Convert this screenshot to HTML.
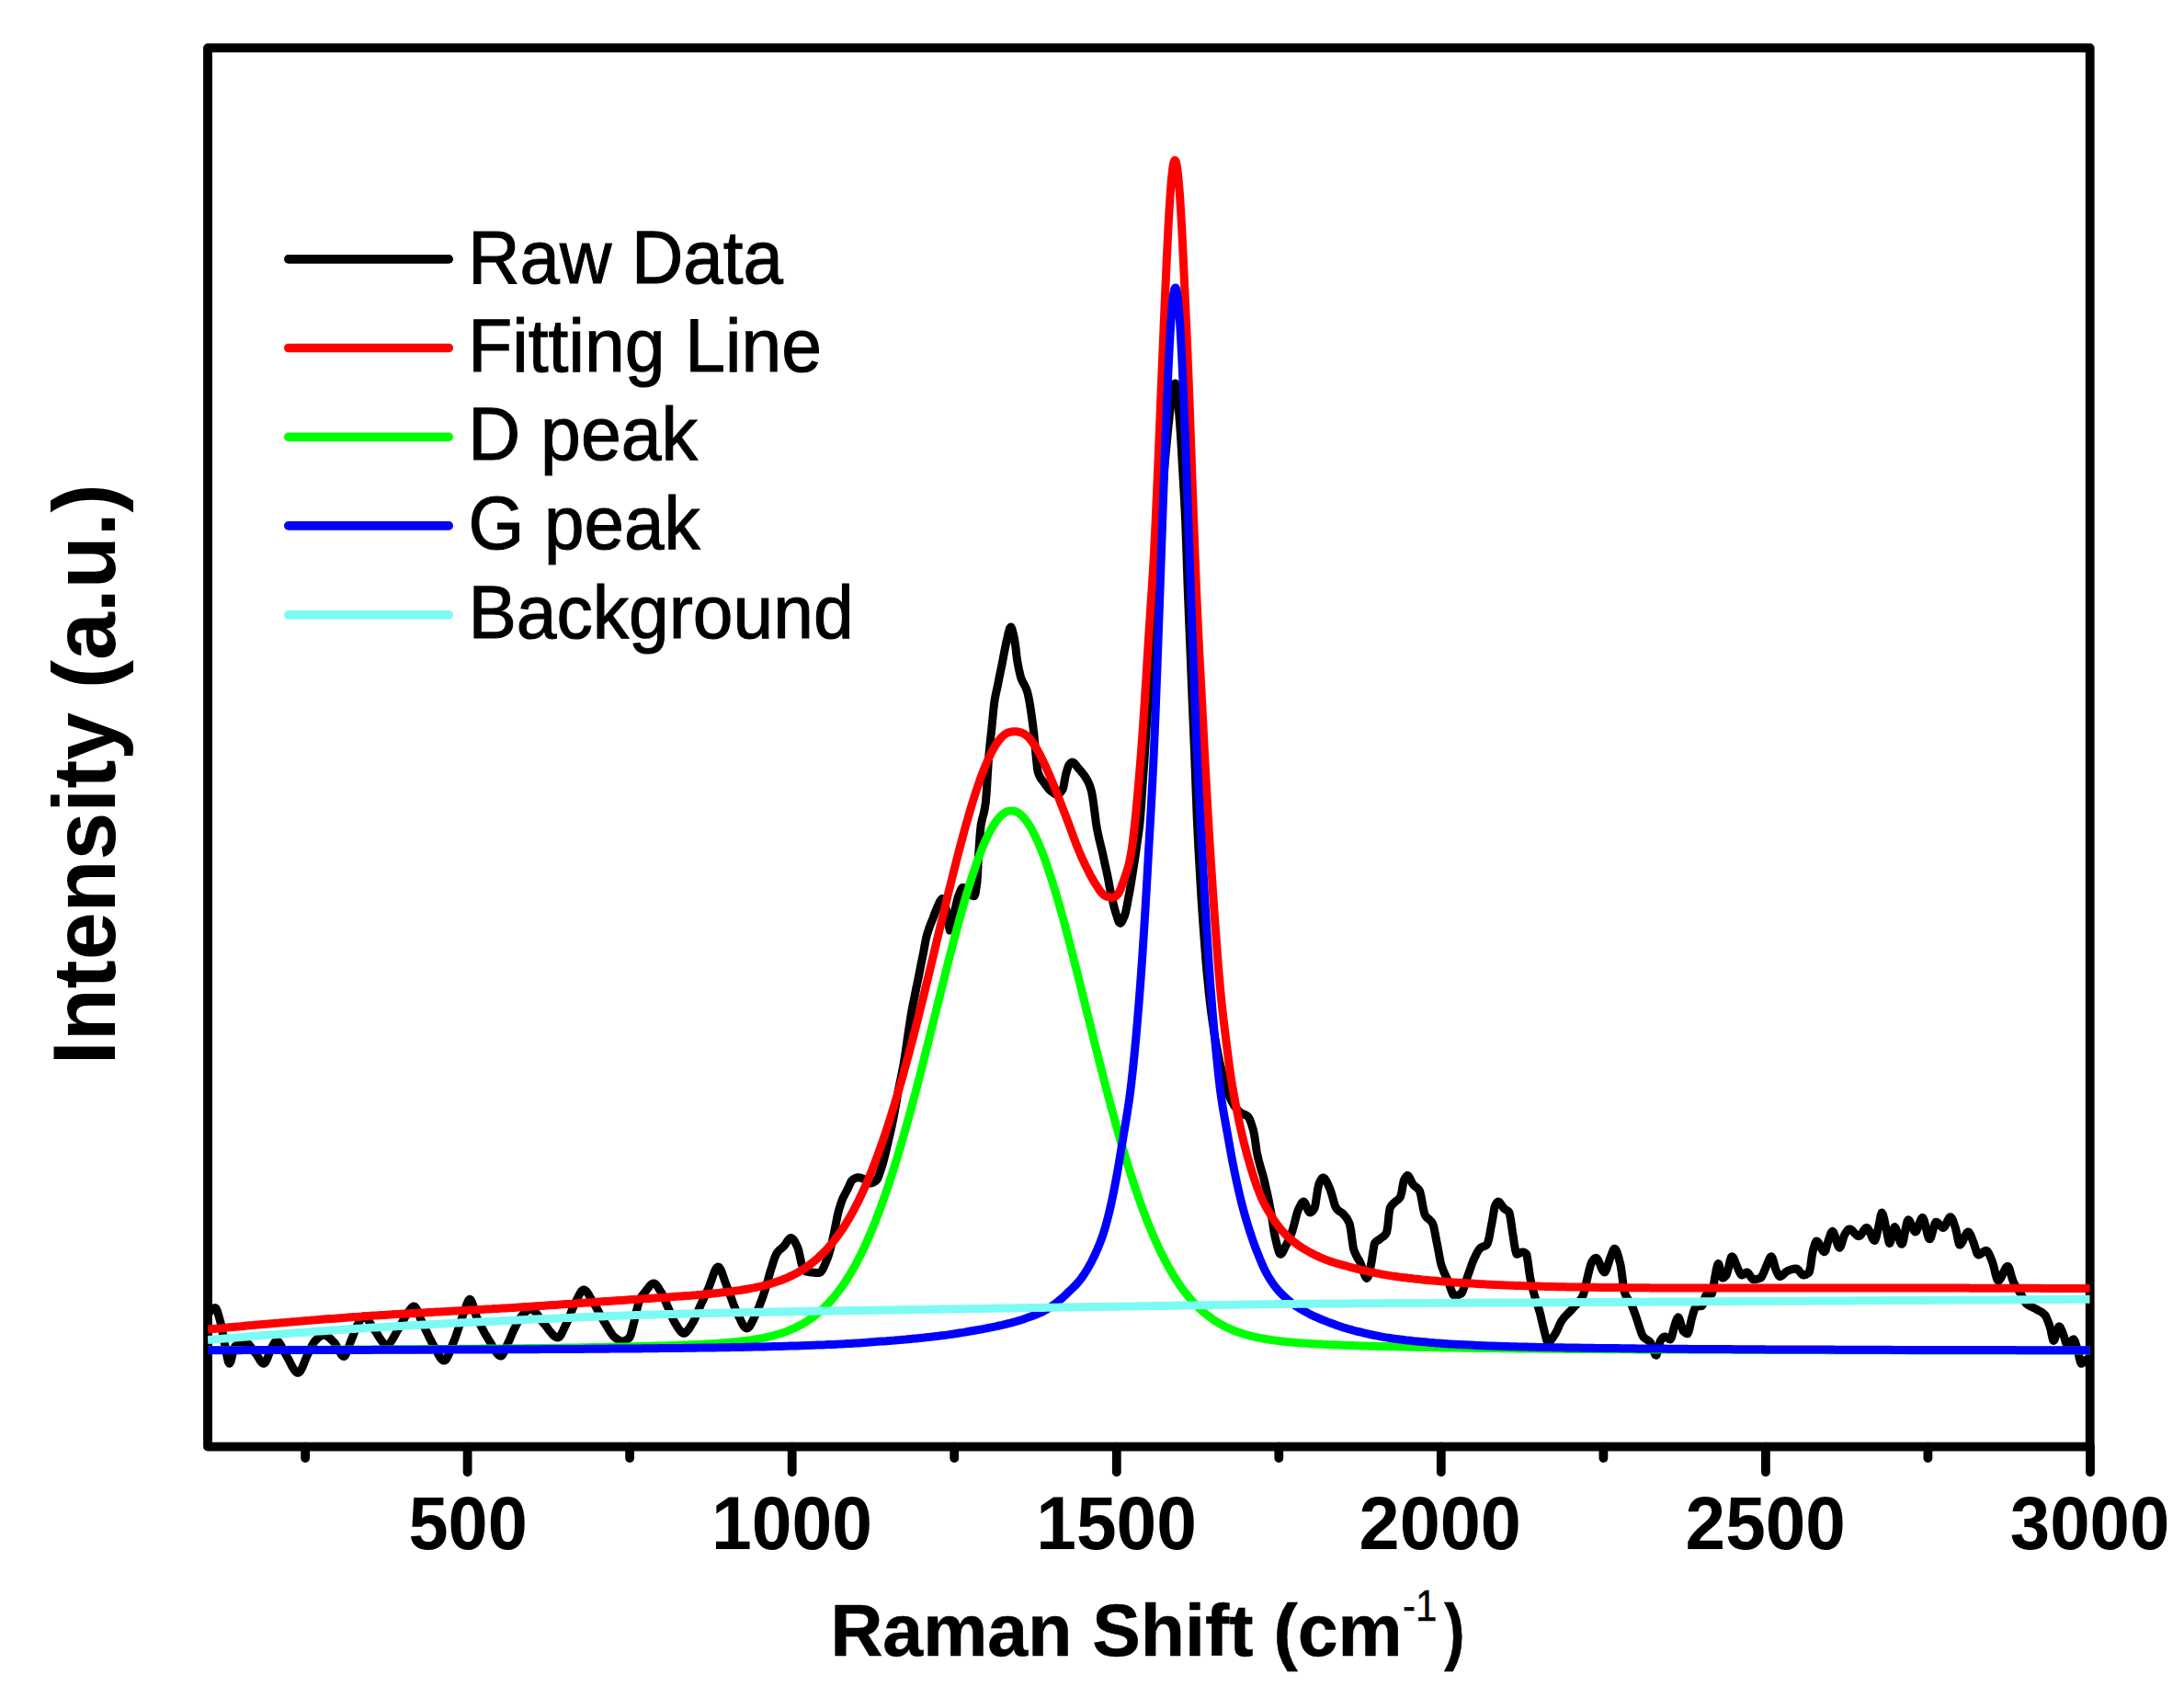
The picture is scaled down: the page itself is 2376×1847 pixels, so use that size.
<!DOCTYPE html>
<html lang="en">
<head>
<meta charset="utf-8">
<title>Raman spectrum fit</title>
<style>
html,body{margin:0;padding:0;background:#fff;}
body{width:2376px;height:1847px;overflow:hidden;}
svg{display:block;}
text{font-family:"Liberation Sans",Arial,Helvetica,sans-serif;fill:#000;}
.curve path{fill:none;stroke-width:9.0;stroke-linejoin:round;stroke-linecap:butt;}
</style>
</head>
<body>
<svg width="2376" height="1847" viewBox="0 0 2376 1847">
<rect x="0" y="0" width="2376" height="1847" fill="#ffffff"/>
<defs><clipPath id="plot"><rect x="226.0" y="52.1" width="2047.6999999999998" height="1521.5"/></clipPath></defs>
<!-- frame -->
<rect x="226.0" y="52.1" width="2047.6999999999998" height="1521.5" fill="none" stroke="#000" stroke-width="9.8" stroke-linejoin="round"/>
<g stroke="#000" stroke-width="9.8" stroke-linecap="round">
<line x1="332.1" y1="1573.6" x2="332.1" y2="1586"/>
<line x1="508.6" y1="1573.6" x2="508.6" y2="1601.3"/>
<line x1="685.1" y1="1573.6" x2="685.1" y2="1586"/>
<line x1="861.7" y1="1573.6" x2="861.7" y2="1601.3"/>
<line x1="1038.2" y1="1573.6" x2="1038.2" y2="1586"/>
<line x1="1214.8" y1="1573.6" x2="1214.8" y2="1601.3"/>
<line x1="1391.3" y1="1573.6" x2="1391.3" y2="1586"/>
<line x1="1567.8" y1="1573.6" x2="1567.8" y2="1601.3"/>
<line x1="1744.4" y1="1573.6" x2="1744.4" y2="1586"/>
<line x1="1920.9" y1="1573.6" x2="1920.9" y2="1601.3"/>
<line x1="2097.4" y1="1573.6" x2="2097.4" y2="1586"/>
<line x1="2274.0" y1="1573.6" x2="2274.0" y2="1601.3"/>
</g>
<!-- curves -->
<g class="curve" clip-path="url(#plot)">
<path id="raw" stroke="#000000" d="M226.0,1431.0 L226.5,1430.0 L227.2,1428.6 L228.5,1426.6 L229.8,1425.0 L230.9,1424.0 L231.0,1423.9 L232.2,1423.1 L233.5,1422.6 L234.0,1422.5 L234.8,1422.9 L236.0,1425.1 L237.2,1428.7 L238.5,1433.2 L239.8,1437.9 L240.2,1439.6 L241.0,1443.0 L242.2,1449.8 L243.5,1457.1 L244.8,1463.8 L244.9,1464.5 L246.0,1470.0 L247.2,1476.5 L248.5,1481.5 L249.6,1483.2 L249.8,1483.2 L251.0,1481.0 L252.2,1476.4 L253.5,1471.0 L254.8,1466.5 L255.8,1464.5 L256.0,1464.3 L257.2,1463.4 L258.5,1462.6 L259.8,1461.8 L261.0,1461.2 L262.2,1460.7 L263.5,1460.3 L264.8,1460.1 L266.0,1459.9 L266.7,1459.9 L267.2,1460.0 L268.5,1460.4 L269.8,1461.4 L271.0,1462.6 L272.2,1464.2 L273.5,1465.9 L274.8,1467.7 L276.0,1469.4 L277.2,1471.1 L278.0,1472.0 L278.5,1472.6 L279.8,1474.4 L281.0,1476.5 L282.2,1478.6 L283.5,1480.5 L284.8,1482.0 L286.0,1483.0 L286.9,1483.2 L287.2,1483.1 L288.5,1482.1 L289.8,1480.0 L291.0,1477.2 L292.2,1474.0 L293.5,1470.6 L294.8,1467.5 L296.0,1465.0 L296.3,1464.5 L297.2,1462.9 L298.5,1460.7 L299.8,1459.0 L301.0,1458.3 L302.2,1458.8 L303.5,1460.1 L304.8,1461.9 L306.0,1464.2 L307.2,1466.7 L308.5,1469.2 L309.8,1471.4 L310.3,1472.3 L311.0,1473.4 L312.2,1475.6 L313.5,1478.0 L314.8,1480.4 L316.0,1482.9 L317.2,1485.3 L318.5,1487.6 L319.8,1489.6 L321.0,1491.2 L322.2,1492.5 L323.5,1493.2 L324.3,1493.3 L324.8,1493.2 L326.0,1492.3 L327.2,1490.6 L328.5,1488.2 L329.8,1485.3 L331.0,1482.2 L332.2,1479.0 L333.5,1475.9 L334.8,1473.2 L335.2,1472.3 L336.0,1470.8 L337.2,1468.2 L338.5,1465.7 L339.8,1463.2 L341.0,1461.0 L342.2,1459.1 L343.0,1458.3 L343.5,1457.8 L344.8,1456.6 L346.0,1455.4 L347.2,1454.4 L348.5,1453.5 L349.8,1452.7 L351.0,1452.3 L352.2,1452.1 L352.3,1452.1 L353.5,1452.3 L354.8,1452.7 L356.0,1453.4 L357.2,1454.3 L358.5,1455.4 L359.8,1456.5 L361.0,1457.7 L362.2,1459.0 L363.2,1459.9 L363.5,1460.2 L364.8,1461.8 L366.0,1463.9 L367.2,1466.3 L368.5,1468.7 L369.8,1471.0 L371.0,1473.0 L372.2,1474.5 L373.5,1475.3 L374.1,1475.4 L374.8,1475.2 L376.0,1473.7 L377.2,1471.0 L378.5,1467.7 L379.8,1464.1 L381.0,1460.5 L381.9,1458.3 L382.2,1457.5 L383.5,1454.4 L384.8,1451.1 L386.0,1447.8 L387.2,1444.6 L388.5,1441.8 L389.7,1439.6 L389.8,1439.5 L391.0,1437.4 L392.2,1435.3 L393.5,1433.5 L394.8,1432.2 L395.9,1431.8 L396.0,1431.8 L397.2,1432.2 L398.5,1433.2 L399.8,1434.7 L401.0,1436.5 L402.2,1438.6 L403.5,1440.7 L404.8,1442.8 L406.0,1444.7 L406.8,1445.8 L407.2,1446.4 L408.5,1448.1 L409.8,1450.1 L411.0,1452.1 L412.2,1454.1 L413.5,1456.1 L414.8,1458.0 L416.0,1459.7 L417.2,1461.1 L418.5,1462.2 L419.8,1462.8 L420.8,1463.0 L421.0,1463.0 L422.2,1462.6 L423.5,1461.6 L424.8,1460.2 L426.0,1458.5 L427.2,1456.4 L428.5,1454.2 L429.8,1452.0 L431.0,1449.7 L432.2,1447.5 L433.3,1445.8 L433.5,1445.5 L434.8,1443.4 L436.0,1441.2 L437.2,1438.9 L438.5,1436.6 L439.8,1434.3 L441.0,1432.0 L442.2,1430.0 L443.5,1428.1 L444.2,1427.2 L444.8,1426.5 L446.0,1424.8 L447.2,1423.1 L448.5,1421.8 L449.8,1421.0 L450.4,1420.9 L451.0,1421.1 L452.2,1422.2 L453.5,1424.4 L454.8,1427.2 L456.0,1430.4 L457.2,1433.7 L458.5,1436.9 L459.7,1439.6 L459.8,1439.7 L461.0,1442.2 L462.2,1444.8 L463.5,1447.5 L464.8,1450.1 L466.0,1452.7 L467.2,1455.3 L468.5,1457.7 L469.8,1460.2 L471.0,1462.4 L472.2,1464.5 L472.2,1464.6 L473.5,1466.8 L474.8,1469.1 L476.0,1471.5 L477.2,1473.9 L478.5,1476.0 L479.8,1477.8 L481.0,1479.1 L482.2,1479.9 L483.1,1480.1 L483.5,1480.0 L484.8,1479.3 L486.0,1477.6 L487.2,1475.3 L488.5,1472.5 L489.8,1469.4 L491.0,1466.1 L492.2,1462.7 L493.5,1459.5 L494.0,1458.3 L494.8,1456.5 L496.0,1453.2 L497.2,1449.6 L498.5,1445.8 L499.8,1442.0 L501.0,1438.2 L502.2,1434.5 L503.5,1430.9 L504.8,1427.6 L504.9,1427.2 L506.0,1424.2 L507.2,1420.4 L508.5,1416.9 L509.8,1414.3 L511.0,1413.2 L511.1,1413.2 L512.2,1414.1 L513.5,1416.6 L514.8,1420.3 L516.0,1424.6 L517.2,1428.8 L518.5,1432.5 L518.9,1433.4 L519.8,1435.3 L521.0,1437.9 L522.2,1440.5 L523.5,1443.0 L524.8,1445.4 L526.0,1447.7 L527.2,1450.0 L528.5,1452.1 L529.8,1454.2 L531.0,1456.2 L531.3,1456.7 L532.2,1458.2 L533.5,1460.4 L534.8,1462.6 L536.0,1464.9 L537.2,1467.0 L538.5,1469.1 L539.8,1470.9 L541.0,1472.5 L542.2,1473.8 L543.5,1474.6 L544.8,1475.0 L545.0,1475.0 L546.0,1474.6 L547.2,1473.0 L548.5,1470.5 L549.8,1467.6 L551.0,1464.6 L552.2,1461.7 L552.5,1461.2 L553.5,1459.1 L554.8,1456.3 L556.0,1453.4 L557.2,1450.5 L558.5,1447.6 L559.8,1445.0 L560.2,1444.1 L561.0,1442.6 L562.2,1440.1 L563.5,1437.8 L564.8,1435.6 L566.0,1433.6 L567.2,1431.9 L568.0,1431.0 L568.5,1430.5 L569.8,1429.1 L571.0,1427.8 L572.2,1426.6 L573.5,1425.6 L574.8,1424.7 L576.0,1424.1 L577.2,1423.9 L577.4,1423.9 L578.5,1424.1 L579.8,1424.7 L581.0,1425.7 L582.2,1427.0 L583.5,1428.6 L584.8,1430.3 L586.0,1432.1 L587.2,1434.0 L588.5,1435.8 L589.8,1437.4 L591.0,1439.0 L591.4,1439.4 L592.2,1440.3 L593.5,1441.8 L594.8,1443.4 L596.0,1445.1 L597.2,1446.8 L598.5,1448.4 L599.8,1450.0 L601.0,1451.4 L602.2,1452.7 L603.5,1453.7 L604.8,1454.5 L606.0,1454.9 L606.9,1455.0 L607.2,1455.0 L608.5,1454.2 L609.8,1452.7 L611.0,1450.6 L612.2,1448.1 L613.5,1445.4 L614.8,1442.6 L616.0,1440.0 L616.3,1439.4 L617.2,1437.4 L618.5,1434.6 L619.8,1431.5 L621.0,1428.3 L622.2,1425.1 L623.5,1422.1 L624.8,1419.3 L625.6,1417.6 L626.0,1416.8 L627.2,1414.3 L628.5,1411.7 L629.8,1409.1 L631.0,1406.8 L632.2,1404.9 L633.5,1403.5 L634.8,1402.9 L635.0,1402.9 L636.0,1403.1 L637.2,1404.0 L638.5,1405.3 L639.8,1407.1 L641.0,1409.1 L642.2,1411.3 L643.5,1413.6 L644.8,1415.7 L645.9,1417.6 L646.0,1417.8 L647.2,1419.7 L648.5,1421.9 L649.8,1424.1 L651.0,1426.4 L652.2,1428.7 L653.5,1431.0 L654.8,1433.3 L656.0,1435.6 L657.2,1437.7 L658.3,1439.4 L658.5,1439.7 L659.8,1441.7 L661.0,1443.8 L662.2,1445.9 L663.5,1448.0 L664.8,1449.9 L666.0,1451.6 L667.2,1453.2 L668.5,1454.4 L669.2,1455.0 L669.8,1455.4 L671.0,1456.3 L672.2,1457.1 L673.5,1457.9 L674.8,1458.4 L676.0,1458.8 L677.0,1458.9 L677.2,1458.9 L678.5,1458.7 L679.8,1458.4 L681.0,1457.8 L682.2,1457.1 L683.5,1456.1 L684.8,1455.0 L684.8,1455.0 L686.0,1452.6 L687.2,1448.2 L688.5,1442.9 L689.4,1439.4 L689.8,1438.1 L691.0,1432.8 L692.2,1427.1 L693.5,1421.7 L694.8,1417.1 L695.7,1414.5 L696.0,1413.9 L697.2,1411.5 L698.5,1409.5 L699.8,1407.8 L701.0,1406.3 L701.9,1405.2 L702.2,1404.8 L703.5,1403.1 L704.8,1401.4 L706.0,1399.8 L707.2,1398.3 L708.5,1397.1 L709.8,1396.3 L711.0,1395.9 L711.2,1395.9 L712.2,1396.2 L713.5,1397.1 L714.8,1398.6 L716.0,1400.4 L717.2,1402.4 L718.5,1404.4 L719.0,1405.2 L719.8,1406.4 L721.0,1408.9 L722.2,1411.6 L723.5,1414.5 L724.8,1417.5 L726.0,1420.5 L726.8,1422.3 L727.2,1423.3 L728.5,1426.2 L729.8,1429.2 L731.0,1432.2 L732.2,1435.0 L733.5,1437.5 L734.6,1439.4 L734.8,1439.6 L736.0,1441.6 L737.2,1443.6 L738.5,1445.6 L739.8,1447.3 L741.0,1448.7 L742.2,1449.8 L743.5,1450.3 L743.9,1450.3 L744.8,1450.2 L746.0,1449.5 L747.2,1448.3 L748.5,1446.8 L749.8,1445.0 L751.0,1443.1 L752.2,1441.1 L753.3,1439.4 L753.5,1439.1 L754.8,1436.8 L756.0,1434.2 L757.2,1431.2 L758.5,1428.2 L759.8,1425.2 L761.0,1422.3 L762.2,1419.6 L763.5,1416.9 L764.8,1414.2 L766.0,1411.6 L767.2,1408.9 L768.5,1406.2 L769.8,1403.5 L770.4,1402.1 L771.0,1400.7 L772.2,1397.5 L773.5,1393.9 L774.8,1390.2 L776.0,1386.7 L777.2,1383.4 L778.5,1380.8 L779.8,1378.9 L781.0,1378.0 L781.3,1378.0 L782.2,1378.4 L783.5,1380.0 L784.8,1382.6 L786.0,1385.8 L787.2,1389.4 L788.5,1393.2 L789.8,1396.7 L790.6,1398.9 L791.0,1399.9 L792.2,1403.1 L793.5,1406.4 L794.8,1409.9 L796.0,1413.3 L797.2,1416.8 L798.5,1420.1 L799.8,1423.2 L801.0,1426.0 L801.5,1427.0 L802.2,1428.5 L803.5,1431.3 L804.8,1434.0 L806.0,1436.7 L807.2,1439.3 L808.5,1441.5 L809.8,1443.2 L811.0,1444.4 L812.2,1444.9 L812.4,1444.9 L813.5,1444.6 L814.8,1443.6 L816.0,1442.0 L817.2,1439.9 L818.5,1437.4 L819.8,1434.8 L821.0,1432.0 L822.2,1429.2 L823.3,1427.0 L823.5,1426.6 L824.8,1423.9 L826.0,1420.9 L827.2,1417.7 L828.5,1414.4 L829.8,1410.9 L831.0,1407.2 L832.2,1403.5 L832.7,1402.1 L833.5,1399.5 L834.8,1395.1 L836.0,1390.5 L837.2,1385.9 L838.5,1381.6 L838.9,1380.3 L839.8,1377.6 L841.0,1373.6 L842.2,1369.8 L843.5,1366.4 L844.8,1363.8 L845.1,1363.2 L846.0,1362.0 L847.2,1360.5 L848.5,1359.3 L849.8,1358.3 L851.0,1357.2 L852.2,1356.1 L852.9,1355.4 L853.5,1354.7 L854.8,1352.9 L856.0,1351.0 L857.2,1349.1 L858.5,1347.6 L859.8,1346.7 L860.5,1346.5 L861.0,1346.6 L862.2,1347.3 L863.5,1348.8 L864.8,1350.8 L866.0,1353.2 L867.2,1355.8 L867.8,1357.0 L868.5,1359.0 L869.8,1364.4 L871.0,1370.3 L872.2,1375.1 L872.5,1375.7 L873.5,1378.0 L874.8,1380.5 L876.0,1382.3 L877.0,1383.0 L877.2,1383.1 L878.5,1383.3 L879.8,1383.6 L881.0,1383.8 L882.2,1384.0 L883.5,1384.1 L884.8,1384.2 L886.0,1384.3 L887.2,1384.4 L888.5,1384.5 L889.8,1384.5 L891.0,1384.5 L891.1,1384.5 L892.2,1384.1 L893.5,1382.9 L894.8,1381.1 L896.0,1378.7 L897.2,1375.9 L898.5,1372.9 L899.8,1369.8 L900.5,1367.9 L901.0,1366.6 L902.2,1362.7 L903.5,1358.1 L904.8,1353.0 L906.0,1347.6 L906.7,1344.6 L907.2,1342.1 L908.5,1335.7 L909.8,1329.0 L911.0,1322.9 L911.4,1321.2 L912.2,1317.9 L913.5,1313.3 L914.8,1309.2 L916.0,1305.7 L917.2,1302.8 L918.5,1300.3 L919.8,1297.9 L921.0,1295.7 L922.2,1293.3 L922.3,1293.2 L923.5,1290.5 L924.8,1287.5 L926.0,1285.0 L926.9,1283.9 L927.2,1283.6 L928.5,1282.7 L929.8,1281.9 L931.0,1281.3 L932.2,1280.9 L933.2,1280.8 L933.5,1280.8 L934.8,1280.9 L936.0,1281.2 L937.2,1281.6 L938.5,1282.0 L939.4,1282.3 L939.8,1282.4 L941.0,1283.2 L942.2,1284.1 L943.5,1285.1 L944.8,1286.1 L946.0,1286.8 L947.2,1287.0 L947.2,1287.0 L948.5,1286.8 L949.8,1286.4 L951.0,1285.7 L952.2,1284.8 L953.4,1283.9 L953.5,1283.8 L954.8,1282.0 L956.0,1279.2 L957.2,1275.6 L958.5,1271.8 L959.6,1268.3 L959.8,1267.8 L961.0,1263.6 L962.2,1258.8 L963.5,1253.6 L964.8,1248.3 L965.9,1243.4 L966.0,1243.0 L967.2,1237.7 L968.5,1232.2 L969.8,1226.6 L971.0,1220.8 L972.1,1215.4 L972.2,1214.6 L973.5,1208.0 L974.8,1201.0 L976.0,1193.8 L977.2,1186.8 L978.3,1181.1 L978.5,1180.1 L979.8,1174.0 L981.0,1168.1 L982.2,1161.9 L983.0,1157.8 L983.5,1154.8 L984.8,1146.7 L986.0,1138.2 L986.7,1133.5 L987.2,1129.8 L988.5,1121.2 L989.8,1112.7 L991.0,1104.8 L991.4,1102.4 L992.2,1097.7 L993.5,1091.2 L994.8,1085.0 L996.0,1079.0 L997.2,1072.9 L997.6,1071.2 L998.5,1066.7 L999.8,1060.4 L1001.0,1054.1 L1002.2,1047.9 L1003.5,1041.6 L1003.8,1040.1 L1004.8,1035.1 L1006.0,1028.4 L1007.2,1022.0 L1008.5,1016.7 L1009.8,1012.6 L1011.0,1009.0 L1012.2,1005.7 L1013.5,1002.6 L1014.7,999.6 L1014.8,999.5 L1016.0,996.1 L1017.2,992.8 L1018.5,989.5 L1019.8,986.5 L1020.9,984.1 L1021.0,983.9 L1022.2,981.2 L1023.5,978.9 L1024.8,977.8 L1024.8,977.8 L1026.0,978.9 L1027.2,981.9 L1028.5,986.2 L1029.8,991.2 L1030.3,993.4 L1031.0,997.5 L1032.2,1007.4 L1033.4,1012.1 L1033.5,1012.1 L1034.8,1009.0 L1036.0,1002.9 L1037.2,996.7 L1037.3,996.5 L1038.5,991.4 L1039.8,985.8 L1041.0,980.5 L1042.2,976.0 L1042.7,974.7 L1043.5,972.5 L1044.8,969.2 L1046.0,966.6 L1047.2,965.4 L1047.4,965.4 L1048.5,965.8 L1049.8,966.9 L1051.0,968.4 L1052.2,970.2 L1053.5,971.8 L1054.8,972.9 L1055.2,973.2 L1056.0,973.6 L1057.2,974.1 L1058.5,974.5 L1059.8,974.7 L1059.9,974.7 L1061.0,972.4 L1062.2,965.1 L1063.0,959.2 L1063.5,951.8 L1064.5,931.1 L1064.8,927.2 L1066.0,909.2 L1066.9,900.0 L1067.2,897.5 L1068.5,891.0 L1069.8,886.4 L1071.0,881.4 L1072.2,873.9 L1072.3,873.5 L1073.5,857.9 L1074.8,836.2 L1075.4,826.8 L1076.0,820.0 L1077.2,807.6 L1078.5,795.7 L1079.8,782.6 L1081.0,770.0 L1081.7,764.5 L1082.2,761.0 L1083.5,754.2 L1084.8,748.4 L1086.0,742.7 L1086.3,741.2 L1087.2,736.4 L1088.5,730.2 L1089.8,724.0 L1091.0,717.8 L1092.2,711.3 L1093.5,704.7 L1094.8,698.5 L1095.7,694.5 L1096.0,693.3 L1097.2,688.0 L1098.5,683.6 L1099.6,682.0 L1099.8,682.0 L1101.0,684.2 L1102.2,688.8 L1103.5,694.5 L1104.8,703.1 L1106.0,713.6 L1106.6,717.8 L1107.2,721.6 L1108.5,728.2 L1109.8,733.8 L1110.5,736.5 L1111.0,738.0 L1112.2,741.0 L1113.5,743.3 L1114.8,745.6 L1116.0,748.1 L1117.2,751.3 L1117.5,752.1 L1118.5,756.0 L1119.8,762.4 L1121.0,769.8 L1121.4,772.3 L1122.2,777.9 L1123.5,787.3 L1124.5,795.7 L1124.8,798.0 L1126.0,810.9 L1126.8,819.0 L1127.2,823.5 L1128.5,835.9 L1129.1,839.3 L1129.8,841.3 L1131.0,844.4 L1132.2,846.6 L1133.5,848.4 L1134.8,849.9 L1136.0,851.6 L1136.1,851.7 L1137.2,853.3 L1138.5,855.1 L1139.8,856.7 L1141.0,858.3 L1142.2,859.6 L1143.5,860.7 L1143.9,861.0 L1144.8,861.6 L1146.0,862.5 L1147.2,863.3 L1148.5,863.9 L1149.8,864.2 L1150.2,864.2 L1151.0,864.1 L1152.2,863.4 L1153.5,862.2 L1154.8,860.6 L1156.0,858.6 L1156.4,857.9 L1157.2,854.8 L1158.5,847.5 L1159.5,842.4 L1159.8,841.5 L1161.0,837.2 L1162.2,833.6 L1163.4,831.5 L1163.5,831.4 L1164.8,830.0 L1166.0,829.2 L1166.5,829.1 L1167.2,829.2 L1168.5,830.0 L1169.8,831.3 L1171.0,832.9 L1172.2,834.5 L1173.5,836.1 L1174.8,837.5 L1176.0,838.9 L1177.2,840.4 L1178.5,842.0 L1179.8,843.7 L1181.0,845.5 L1182.2,847.6 L1182.8,848.6 L1183.5,849.9 L1184.8,852.6 L1186.0,855.9 L1187.2,860.1 L1187.5,861.0 L1188.5,866.3 L1189.8,875.2 L1190.6,881.3 L1191.0,884.1 L1192.2,893.6 L1193.5,902.0 L1194.8,908.2 L1196.0,913.5 L1197.2,918.5 L1198.4,923.3 L1198.5,923.7 L1199.8,929.3 L1201.0,934.9 L1202.2,940.5 L1203.5,946.2 L1204.6,951.4 L1204.8,952.1 L1206.0,958.4 L1207.2,964.8 L1208.5,971.0 L1209.3,974.7 L1209.8,976.7 L1211.0,982.2 L1212.2,987.3 L1213.5,991.8 L1214.0,993.4 L1214.8,995.7 L1216.0,999.7 L1217.2,1002.9 L1218.5,1004.3 L1218.6,1004.3 L1219.8,1003.6 L1221.0,1001.7 L1222.2,999.0 L1223.3,996.5 L1223.5,996.0 L1224.8,991.5 L1226.0,985.4 L1227.2,978.7 L1228.0,974.7 L1228.5,972.0 L1229.8,964.9 L1231.0,957.4 L1232.2,949.5 L1232.7,946.7 L1233.5,941.6 L1234.8,933.3 L1236.0,924.8 L1237.2,916.0 L1237.3,915.6 L1238.5,907.2 L1239.8,897.3 L1240.0,895.0 L1241.0,883.7 L1242.2,866.2 L1243.5,847.3 L1244.0,840.0 L1244.8,829.1 L1246.0,810.3 L1247.2,791.3 L1248.0,780.0 L1248.5,772.5 L1249.8,753.8 L1251.0,735.0 L1252.0,720.0 L1252.2,716.2 L1253.5,697.5 L1254.8,678.8 L1256.0,660.0 L1257.2,641.1 L1258.5,622.1 L1259.8,603.6 L1260.0,600.0 L1261.0,585.8 L1262.2,568.4 L1263.5,551.6 L1264.0,545.0 L1264.8,535.2 L1266.0,519.0 L1267.2,503.6 L1268.0,495.0 L1268.5,489.5 L1269.8,476.3 L1271.0,464.1 L1272.0,455.0 L1272.2,452.8 L1273.5,442.0 L1274.8,432.4 L1275.5,428.0 L1276.0,425.4 L1277.2,419.4 L1278.4,417.0 L1278.5,417.0 L1279.8,421.5 L1281.0,430.0 L1282.2,442.9 L1283.5,460.0 L1284.8,479.0 L1286.0,500.0 L1287.2,521.0 L1288.5,543.5 L1289.1,555.7 L1289.8,570.8 L1291.0,604.4 L1292.2,639.9 L1293.0,660.0 L1293.5,672.7 L1294.8,703.6 L1296.0,733.8 L1297.2,763.7 L1298.3,789.0 L1298.5,793.9 L1299.8,825.7 L1301.0,858.2 L1302.2,889.1 L1303.5,916.4 L1303.9,924.0 L1304.8,939.2 L1306.0,960.5 L1307.2,980.5 L1308.5,999.4 L1309.8,1017.1 L1311.0,1033.5 L1312.2,1048.6 L1313.5,1062.6 L1314.8,1075.2 L1314.8,1075.7 L1316.0,1086.7 L1317.2,1097.3 L1318.5,1107.0 L1319.8,1115.9 L1321.0,1124.0 L1322.0,1130.0 L1322.2,1131.4 L1323.5,1138.4 L1324.8,1145.0 L1326.0,1151.2 L1327.2,1156.9 L1328.5,1162.3 L1329.8,1167.4 L1331.0,1172.0 L1332.2,1176.4 L1333.5,1180.7 L1334.8,1184.7 L1336.0,1188.5 L1337.2,1192.0 L1338.5,1195.0 L1339.8,1197.5 L1340.0,1198.0 L1341.0,1199.7 L1342.2,1201.7 L1343.5,1203.6 L1344.8,1205.2 L1346.0,1206.8 L1347.2,1208.1 L1348.5,1209.3 L1349.8,1210.3 L1350.0,1210.5 L1351.0,1211.1 L1352.2,1211.7 L1353.5,1212.2 L1354.8,1212.7 L1356.0,1213.3 L1357.2,1214.2 L1357.4,1214.3 L1358.5,1215.7 L1359.8,1218.1 L1361.0,1221.3 L1362.2,1225.1 L1363.3,1228.6 L1363.5,1229.3 L1364.8,1235.9 L1366.0,1244.2 L1367.2,1252.5 L1368.1,1257.1 L1368.5,1258.9 L1369.8,1264.0 L1371.0,1268.5 L1372.2,1272.7 L1373.5,1276.9 L1374.8,1281.5 L1375.2,1283.3 L1376.0,1286.6 L1377.2,1292.0 L1378.5,1297.5 L1379.8,1303.4 L1381.0,1309.5 L1382.2,1315.9 L1382.4,1316.7 L1383.5,1323.2 L1384.8,1331.6 L1386.0,1339.6 L1387.1,1345.2 L1387.2,1345.8 L1388.5,1351.3 L1389.8,1356.6 L1391.0,1360.9 L1392.2,1363.7 L1393.1,1364.3 L1393.5,1364.2 L1394.8,1363.1 L1396.0,1361.0 L1397.2,1358.4 L1398.5,1355.8 L1399.0,1354.8 L1399.8,1353.4 L1401.0,1350.8 L1402.2,1348.1 L1403.5,1345.2 L1404.8,1342.1 L1406.0,1338.7 L1406.2,1338.1 L1407.2,1334.6 L1408.5,1329.7 L1409.8,1324.5 L1411.0,1319.8 L1412.1,1316.7 L1412.2,1316.4 L1413.5,1313.5 L1414.8,1310.9 L1416.0,1308.7 L1417.2,1307.4 L1418.1,1307.1 L1418.5,1307.2 L1419.8,1308.7 L1421.0,1311.4 L1422.2,1314.5 L1423.5,1317.3 L1424.8,1318.9 L1425.2,1319.0 L1426.0,1318.8 L1427.2,1318.0 L1428.5,1316.6 L1429.8,1314.7 L1430.0,1314.3 L1431.0,1310.7 L1432.2,1302.7 L1433.5,1294.0 L1434.8,1288.2 L1434.8,1288.1 L1436.0,1285.4 L1437.2,1283.0 L1438.5,1281.4 L1439.5,1281.0 L1439.8,1281.0 L1441.0,1281.8 L1442.2,1283.5 L1443.5,1285.8 L1444.8,1288.5 L1446.0,1291.4 L1446.7,1292.9 L1447.2,1294.2 L1448.5,1298.0 L1449.8,1302.5 L1451.0,1307.0 L1452.2,1311.0 L1453.5,1313.8 L1453.8,1314.3 L1454.8,1315.5 L1456.0,1316.7 L1457.2,1317.6 L1458.5,1318.4 L1459.8,1319.3 L1461.0,1320.3 L1462.1,1321.4 L1462.2,1321.6 L1463.5,1323.0 L1464.8,1324.6 L1466.0,1326.6 L1467.2,1329.0 L1468.1,1331.0 L1468.5,1332.3 L1469.8,1339.5 L1471.0,1348.7 L1472.2,1356.8 L1472.9,1359.5 L1473.5,1361.3 L1474.8,1364.3 L1476.0,1366.7 L1477.2,1368.8 L1478.5,1370.9 L1479.8,1373.3 L1480.0,1373.8 L1481.0,1376.3 L1482.2,1380.0 L1483.5,1383.9 L1484.8,1387.4 L1486.0,1389.7 L1487.1,1390.5 L1487.2,1390.5 L1488.5,1388.4 L1489.8,1383.8 L1491.0,1378.0 L1491.9,1373.8 L1492.2,1372.0 L1493.5,1363.3 L1494.8,1355.0 L1495.5,1352.4 L1496.0,1351.7 L1497.2,1350.4 L1498.5,1349.5 L1499.8,1348.8 L1501.0,1347.9 L1501.4,1347.6 L1502.2,1346.9 L1503.5,1346.0 L1504.8,1345.2 L1506.0,1344.1 L1507.2,1342.7 L1508.5,1340.7 L1508.6,1340.5 L1509.8,1333.4 L1511.0,1321.1 L1512.1,1314.3 L1512.2,1314.0 L1513.5,1311.8 L1514.8,1310.2 L1516.0,1309.0 L1517.2,1307.9 L1518.1,1307.1 L1518.5,1306.7 L1519.8,1305.7 L1521.0,1304.8 L1522.2,1303.6 L1523.5,1302.0 L1524.8,1297.4 L1526.0,1290.2 L1527.2,1284.2 L1527.6,1283.3 L1528.5,1281.6 L1529.8,1279.6 L1531.0,1278.6 L1531.2,1278.6 L1532.2,1279.2 L1533.5,1281.1 L1534.8,1283.7 L1536.0,1286.3 L1537.1,1288.1 L1537.2,1288.3 L1538.5,1289.6 L1539.8,1290.6 L1541.0,1291.5 L1542.2,1292.6 L1543.5,1294.0 L1544.3,1295.2 L1544.8,1296.2 L1546.0,1301.2 L1547.2,1308.1 L1548.5,1315.1 L1549.8,1320.3 L1550.2,1321.4 L1551.0,1322.7 L1552.2,1324.3 L1553.5,1325.4 L1554.8,1326.4 L1556.0,1327.5 L1557.2,1328.8 L1558.5,1330.8 L1558.6,1331.0 L1559.8,1334.5 L1561.0,1340.3 L1562.2,1347.0 L1563.3,1352.4 L1563.5,1353.4 L1564.8,1360.0 L1566.0,1366.8 L1567.2,1372.9 L1568.1,1376.2 L1568.5,1377.5 L1569.8,1381.0 L1571.0,1384.0 L1572.2,1386.6 L1573.5,1389.2 L1574.8,1391.9 L1575.2,1392.9 L1576.0,1394.9 L1577.2,1398.6 L1578.5,1402.4 L1579.8,1405.8 L1581.0,1408.4 L1582.2,1409.5 L1582.4,1409.5 L1583.5,1409.4 L1584.8,1409.2 L1586.0,1408.8 L1587.2,1408.3 L1588.5,1407.7 L1589.5,1407.1 L1589.8,1406.9 L1591.0,1405.1 L1592.2,1402.0 L1593.5,1398.2 L1594.8,1394.1 L1596.0,1390.1 L1596.7,1388.1 L1597.2,1386.6 L1598.5,1383.1 L1599.8,1379.4 L1601.0,1375.9 L1602.2,1372.6 L1603.5,1369.6 L1603.8,1369.0 L1604.8,1367.0 L1606.0,1364.5 L1607.2,1362.1 L1608.5,1360.0 L1609.8,1358.3 L1611.0,1357.1 L1612.2,1356.4 L1613.5,1355.9 L1614.8,1355.5 L1616.0,1355.0 L1617.2,1354.2 L1617.5,1354.0 L1618.5,1352.1 L1619.8,1347.3 L1621.0,1341.0 L1622.2,1334.3 L1622.9,1331.0 L1623.5,1327.7 L1624.8,1319.6 L1626.0,1313.1 L1626.4,1311.9 L1627.2,1310.2 L1628.5,1308.1 L1629.8,1307.1 L1630.0,1307.1 L1631.0,1307.5 L1632.2,1308.9 L1633.5,1310.8 L1634.8,1312.7 L1636.0,1314.3 L1637.2,1315.3 L1638.5,1316.0 L1639.8,1316.8 L1641.0,1317.8 L1641.9,1319.0 L1642.2,1319.8 L1643.5,1326.5 L1644.8,1335.7 L1645.5,1340.5 L1646.0,1343.4 L1647.2,1351.7 L1648.5,1359.4 L1649.8,1363.9 L1650.2,1364.3 L1651.0,1364.2 L1652.2,1363.7 L1653.5,1362.9 L1654.8,1362.3 L1656.0,1361.9 L1656.2,1361.9 L1657.2,1362.0 L1658.5,1362.5 L1659.8,1363.4 L1660.5,1364.0 L1661.0,1365.1 L1662.2,1372.3 L1663.5,1382.1 L1664.7,1390.1 L1664.8,1390.3 L1666.0,1396.1 L1667.2,1401.2 L1668.5,1405.9 L1669.3,1408.8 L1669.8,1410.4 L1671.0,1414.5 L1672.2,1418.2 L1673.5,1422.0 L1674.8,1426.0 L1675.6,1429.0 L1676.0,1430.5 L1677.2,1435.9 L1678.5,1441.5 L1679.8,1446.7 L1680.0,1447.6 L1681.0,1451.5 L1682.2,1456.5 L1683.5,1459.7 L1684.0,1460.0 L1684.8,1459.9 L1686.0,1459.1 L1687.2,1457.8 L1688.5,1456.2 L1689.8,1454.3 L1691.0,1452.4 L1691.9,1451.0 L1692.2,1450.5 L1693.5,1448.1 L1694.8,1445.4 L1696.0,1442.5 L1697.2,1439.8 L1698.5,1437.4 L1698.9,1436.8 L1699.8,1435.6 L1701.0,1433.9 L1702.2,1432.4 L1703.5,1431.1 L1704.8,1429.8 L1706.0,1428.5 L1707.2,1427.3 L1708.5,1426.0 L1709.8,1424.7 L1711.0,1423.3 L1711.4,1422.8 L1712.2,1421.8 L1713.5,1420.5 L1714.8,1419.2 L1716.0,1417.9 L1717.2,1416.6 L1718.5,1415.1 L1719.8,1413.3 L1721.0,1411.3 L1722.2,1408.9 L1722.3,1408.8 L1723.5,1405.2 L1724.8,1399.8 L1726.0,1393.9 L1726.9,1390.1 L1727.2,1388.7 L1728.5,1383.4 L1729.8,1378.2 L1731.0,1374.2 L1731.6,1373.0 L1732.2,1372.0 L1733.5,1370.3 L1734.8,1369.0 L1736.0,1368.3 L1736.3,1368.3 L1737.2,1368.8 L1738.5,1370.5 L1739.8,1373.1 L1741.0,1376.2 L1742.2,1379.3 L1743.5,1381.9 L1744.8,1383.5 L1745.6,1383.9 L1746.0,1383.8 L1747.2,1381.9 L1748.5,1378.5 L1749.8,1374.4 L1751.0,1370.4 L1751.8,1368.3 L1752.2,1367.2 L1753.5,1363.7 L1754.8,1360.4 L1756.0,1358.4 L1756.5,1358.2 L1757.2,1358.6 L1758.5,1360.5 L1759.8,1363.8 L1761.0,1368.1 L1762.2,1372.8 L1762.7,1374.5 L1763.5,1378.7 L1764.8,1388.1 L1766.0,1398.1 L1767.2,1405.2 L1767.4,1405.7 L1768.5,1408.6 L1769.8,1411.1 L1771.0,1413.0 L1772.2,1414.8 L1773.5,1416.6 L1774.8,1418.8 L1775.2,1419.7 L1776.0,1421.6 L1777.2,1424.8 L1778.5,1428.4 L1779.8,1432.1 L1781.0,1435.7 L1781.4,1436.8 L1782.2,1439.3 L1783.5,1443.3 L1784.8,1447.3 L1786.0,1450.8 L1787.2,1453.4 L1787.6,1453.9 L1788.5,1454.9 L1789.8,1456.0 L1791.0,1456.8 L1792.2,1457.5 L1793.5,1458.3 L1794.8,1459.4 L1795.4,1460.1 L1796.0,1461.0 L1797.2,1464.1 L1798.5,1467.9 L1799.8,1471.5 L1801.0,1473.8 L1801.7,1474.2 L1802.2,1473.7 L1803.5,1469.6 L1804.8,1463.8 L1806.0,1459.2 L1806.3,1458.6 L1807.2,1457.2 L1808.5,1455.5 L1809.8,1454.3 L1811.0,1453.9 L1812.2,1454.2 L1813.5,1455.0 L1814.8,1455.9 L1816.0,1456.7 L1817.2,1457.0 L1817.2,1457.0 L1818.5,1454.8 L1819.8,1449.9 L1821.0,1444.5 L1821.9,1441.5 L1822.2,1440.5 L1823.5,1436.9 L1824.8,1433.9 L1825.8,1432.9 L1826.0,1433.0 L1827.2,1435.2 L1828.5,1439.6 L1829.8,1444.3 L1831.0,1447.4 L1831.2,1447.7 L1832.2,1448.8 L1833.5,1449.8 L1834.8,1450.6 L1835.9,1450.8 L1836.0,1450.8 L1837.2,1448.2 L1838.5,1442.9 L1839.8,1436.9 L1840.6,1433.7 L1841.0,1432.4 L1842.2,1428.0 L1843.5,1424.0 L1844.8,1421.5 L1845.2,1421.2 L1846.0,1421.1 L1847.2,1420.9 L1848.5,1420.8 L1849.8,1420.8 L1851.0,1420.6 L1851.5,1420.5 L1852.2,1419.6 L1853.5,1415.9 L1854.8,1411.5 L1856.0,1408.9 L1856.1,1408.8 L1857.2,1408.4 L1858.5,1408.1 L1859.8,1408.0 L1861.0,1407.7 L1862.2,1407.3 L1862.4,1407.2 L1863.5,1403.2 L1864.8,1394.6 L1865.5,1390.1 L1866.0,1387.6 L1867.2,1381.0 L1868.5,1375.9 L1869.4,1374.5 L1869.8,1374.8 L1871.0,1378.8 L1872.2,1385.0 L1873.5,1389.6 L1874.0,1390.1 L1874.8,1390.0 L1876.0,1389.2 L1877.2,1387.9 L1878.0,1387.0 L1878.5,1386.1 L1879.8,1382.0 L1881.0,1376.4 L1882.2,1371.0 L1883.5,1367.3 L1884.2,1366.7 L1884.8,1366.9 L1886.0,1368.6 L1887.2,1371.4 L1888.5,1374.7 L1889.8,1377.9 L1890.4,1379.2 L1891.0,1380.4 L1892.2,1383.2 L1893.5,1385.7 L1894.8,1387.0 L1895.0,1387.0 L1896.0,1386.7 L1897.2,1385.9 L1898.5,1384.8 L1899.8,1384.1 L1900.5,1383.9 L1901.0,1384.0 L1902.2,1385.1 L1903.5,1387.0 L1904.8,1389.0 L1906.0,1390.8 L1907.2,1391.7 L1907.5,1391.7 L1908.5,1391.7 L1909.8,1391.6 L1911.0,1391.4 L1912.2,1391.1 L1913.5,1390.7 L1914.8,1390.3 L1915.3,1390.1 L1916.0,1389.6 L1917.2,1387.7 L1918.5,1384.9 L1919.8,1381.7 L1921.0,1378.7 L1921.5,1377.6 L1922.2,1375.9 L1923.5,1372.7 L1924.8,1369.6 L1926.0,1367.4 L1927.0,1366.7 L1927.2,1366.8 L1928.5,1369.0 L1929.8,1373.3 L1931.0,1378.1 L1932.2,1382.0 L1932.4,1382.3 L1933.5,1384.6 L1934.8,1387.1 L1936.0,1388.4 L1936.3,1388.5 L1937.2,1388.3 L1938.5,1387.6 L1939.8,1386.6 L1941.0,1385.4 L1942.2,1384.2 L1943.5,1383.1 L1944.8,1382.4 L1944.9,1382.3 L1946.0,1381.9 L1947.2,1381.4 L1948.5,1381.0 L1949.8,1380.7 L1951.0,1380.4 L1952.2,1380.1 L1953.5,1380.0 L1954.2,1380.0 L1954.8,1380.1 L1956.0,1380.9 L1957.2,1382.4 L1958.5,1384.0 L1959.8,1385.6 L1961.0,1386.7 L1962.0,1387.0 L1962.2,1387.0 L1963.5,1386.8 L1964.8,1386.4 L1966.0,1385.7 L1967.2,1384.8 L1968.2,1383.9 L1968.5,1383.3 L1969.8,1376.8 L1971.0,1367.6 L1972.0,1362.0 L1972.2,1361.0 L1973.5,1356.1 L1974.8,1352.0 L1976.0,1350.0 L1976.2,1350.0 L1977.2,1350.5 L1978.5,1352.0 L1979.8,1354.3 L1981.0,1356.8 L1982.2,1359.2 L1983.5,1361.0 L1984.8,1361.8 L1984.9,1361.8 L1986.0,1360.4 L1987.2,1356.3 L1988.5,1351.4 L1989.6,1347.8 L1989.8,1347.4 L1991.0,1343.9 L1992.2,1340.7 L1993.5,1339.3 L1994.8,1340.5 L1996.0,1343.6 L1997.2,1347.7 L1998.5,1351.9 L1999.8,1355.4 L2001.0,1357.1 L2001.3,1357.2 L2002.2,1356.3 L2003.5,1353.0 L2004.8,1348.6 L2006.0,1344.7 L2006.7,1343.2 L2007.2,1342.3 L2008.5,1340.3 L2009.8,1338.5 L2011.0,1337.3 L2012.1,1336.9 L2012.2,1336.9 L2013.5,1337.3 L2014.8,1338.2 L2016.0,1339.4 L2017.2,1340.9 L2018.5,1342.3 L2019.8,1343.5 L2021.0,1344.4 L2022.2,1344.7 L2022.3,1344.7 L2023.5,1344.2 L2024.8,1342.8 L2026.0,1340.9 L2027.2,1338.9 L2028.5,1337.1 L2029.8,1335.8 L2030.8,1335.4 L2031.0,1335.4 L2032.2,1336.5 L2033.5,1338.7 L2034.8,1341.5 L2036.0,1344.6 L2037.2,1347.2 L2038.5,1349.0 L2039.4,1349.4 L2039.8,1349.2 L2041.0,1346.2 L2042.2,1340.9 L2043.5,1334.9 L2044.1,1332.3 L2044.8,1329.2 L2046.0,1322.3 L2047.2,1319.0 L2047.2,1319.0 L2048.5,1321.1 L2049.8,1326.0 L2051.0,1331.9 L2051.8,1335.4 L2052.2,1337.4 L2053.5,1344.4 L2054.8,1350.6 L2055.7,1352.5 L2056.0,1352.3 L2057.2,1349.0 L2058.5,1343.3 L2059.8,1337.7 L2061.0,1334.7 L2061.2,1334.6 L2062.2,1335.5 L2063.5,1338.5 L2064.8,1342.7 L2066.0,1347.1 L2067.2,1350.9 L2068.5,1353.1 L2069.0,1353.3 L2069.8,1352.5 L2071.0,1348.0 L2072.2,1341.5 L2073.5,1334.5 L2074.8,1329.0 L2076.0,1326.8 L2077.2,1327.7 L2078.5,1330.0 L2079.8,1333.0 L2081.0,1336.1 L2082.2,1338.6 L2083.5,1339.9 L2083.8,1340.0 L2084.8,1339.4 L2086.0,1336.9 L2087.2,1333.5 L2088.5,1329.7 L2089.8,1326.5 L2091.0,1324.7 L2091.5,1324.5 L2092.2,1325.1 L2093.5,1328.3 L2094.8,1333.3 L2096.0,1338.8 L2097.2,1343.8 L2098.5,1347.1 L2099.3,1347.8 L2099.8,1347.6 L2101.0,1345.0 L2102.2,1340.7 L2103.5,1335.7 L2104.8,1331.5 L2106.0,1329.3 L2106.3,1329.2 L2107.2,1329.5 L2108.5,1330.4 L2109.8,1331.8 L2111.0,1333.2 L2112.2,1334.5 L2113.5,1335.3 L2114.1,1335.4 L2114.8,1335.2 L2116.0,1333.7 L2117.2,1331.2 L2118.5,1328.4 L2119.8,1325.9 L2121.0,1324.1 L2121.9,1323.7 L2122.2,1323.8 L2123.5,1325.2 L2124.8,1328.0 L2126.0,1331.6 L2127.2,1335.3 L2127.3,1335.4 L2128.5,1340.3 L2129.8,1346.9 L2131.0,1352.4 L2132.0,1354.1 L2132.2,1354.1 L2133.5,1353.1 L2134.8,1351.1 L2136.0,1348.5 L2137.2,1345.7 L2138.5,1343.1 L2139.8,1341.0 L2141.0,1340.0 L2141.3,1340.0 L2142.2,1340.6 L2143.5,1342.6 L2144.8,1345.7 L2146.0,1349.0 L2146.8,1350.9 L2147.2,1352.0 L2148.5,1356.0 L2149.8,1360.3 L2151.0,1363.7 L2152.2,1365.0 L2152.2,1365.0 L2153.5,1364.7 L2154.8,1364.0 L2156.0,1363.1 L2157.2,1362.0 L2158.5,1361.1 L2159.8,1360.5 L2160.8,1360.3 L2161.0,1360.3 L2162.2,1361.2 L2163.5,1363.2 L2164.8,1365.9 L2166.0,1368.9 L2167.0,1371.2 L2167.2,1371.8 L2168.5,1375.8 L2169.8,1380.9 L2171.0,1386.1 L2172.2,1390.3 L2173.5,1392.8 L2174.0,1393.0 L2174.8,1392.8 L2176.0,1391.4 L2177.2,1389.3 L2178.5,1386.6 L2179.8,1383.7 L2181.0,1381.0 L2182.2,1378.9 L2183.5,1377.6 L2184.2,1377.4 L2184.8,1377.7 L2186.0,1380.1 L2187.2,1384.2 L2188.5,1388.8 L2189.8,1392.9 L2190.4,1394.5 L2191.0,1395.7 L2192.2,1397.9 L2193.5,1399.9 L2194.8,1401.8 L2196.0,1403.6 L2197.2,1405.5 L2198.2,1407.0 L2198.5,1407.5 L2199.8,1409.9 L2201.0,1412.5 L2202.2,1414.9 L2203.5,1416.9 L2204.4,1417.9 L2204.8,1418.2 L2206.0,1419.2 L2207.2,1420.0 L2208.5,1420.7 L2209.8,1421.3 L2211.0,1421.9 L2212.2,1422.5 L2213.5,1423.1 L2214.8,1423.8 L2215.3,1424.1 L2216.0,1424.5 L2217.2,1425.2 L2218.5,1425.9 L2219.8,1426.5 L2221.0,1427.3 L2222.2,1428.2 L2223.5,1429.2 L2224.6,1430.3 L2224.8,1430.5 L2226.0,1432.4 L2227.2,1435.2 L2228.5,1438.5 L2229.8,1442.3 L2230.9,1445.9 L2231.0,1446.2 L2232.2,1452.3 L2233.5,1457.7 L2234.0,1458.4 L2234.8,1457.8 L2236.0,1454.6 L2237.2,1450.0 L2238.5,1445.7 L2239.8,1443.0 L2240.2,1442.8 L2241.0,1443.3 L2242.2,1445.4 L2243.5,1448.5 L2244.8,1451.8 L2244.9,1452.1 L2246.0,1455.4 L2247.2,1459.8 L2248.5,1463.5 L2249.5,1464.6 L2249.8,1464.6 L2251.0,1463.5 L2252.2,1461.4 L2253.5,1459.2 L2254.8,1457.4 L2255.8,1456.8 L2256.0,1456.8 L2257.2,1458.7 L2258.5,1462.6 L2259.8,1467.0 L2260.4,1469.2 L2261.0,1471.4 L2262.2,1477.3 L2263.5,1482.2 L2264.3,1483.3 L2264.8,1483.2 L2266.0,1482.3 L2267.2,1480.9 L2268.5,1479.6 L2269.8,1479.0 L2269.8,1479.0 L2271.0,1479.7 L2272.2,1481.5 L2273.5,1484.0"/>
<path id="fit" stroke="#ff0000" d="M226.0,1446.1 L229.0,1445.8 L232.0,1445.5 L235.0,1445.2 L238.0,1444.9 L241.0,1444.7 L244.0,1444.4 L247.0,1444.1 L250.0,1443.8 L253.0,1443.5 L256.0,1443.2 L259.0,1442.9 L262.0,1442.7 L265.0,1442.4 L268.0,1442.1 L271.0,1441.8 L274.0,1441.6 L277.0,1441.3 L280.0,1441.0 L283.0,1440.8 L286.0,1440.5 L289.0,1440.2 L292.0,1440.0 L295.0,1439.7 L298.0,1439.5 L301.0,1439.2 L304.0,1439.0 L307.0,1438.7 L310.0,1438.5 L313.0,1438.2 L316.0,1438.0 L319.0,1437.7 L322.0,1437.5 L325.0,1437.2 L328.0,1437.0 L331.0,1436.7 L334.0,1436.5 L337.0,1436.3 L340.0,1436.0 L343.0,1435.8 L346.0,1435.5 L349.0,1435.3 L352.0,1435.1 L355.0,1434.8 L358.0,1434.6 L361.0,1434.4 L364.0,1434.2 L367.0,1433.9 L370.0,1433.7 L373.0,1433.5 L376.0,1433.3 L379.0,1433.0 L382.0,1432.8 L385.0,1432.6 L388.0,1432.4 L391.0,1432.2 L394.0,1432.0 L397.0,1431.7 L400.0,1431.5 L403.0,1431.3 L406.0,1431.1 L409.0,1430.9 L412.0,1430.7 L415.0,1430.5 L418.0,1430.4 L421.0,1430.2 L424.0,1430.0 L427.0,1429.8 L430.0,1429.6 L433.0,1429.4 L436.0,1429.2 L439.0,1429.1 L442.0,1428.9 L445.0,1428.7 L448.0,1428.5 L451.0,1428.4 L454.0,1428.2 L457.0,1428.0 L460.0,1427.9 L463.0,1427.7 L466.0,1427.5 L469.0,1427.4 L472.0,1427.2 L475.0,1427.0 L478.0,1426.9 L481.0,1426.7 L484.0,1426.6 L487.0,1426.4 L490.0,1426.2 L493.0,1426.1 L496.0,1425.9 L499.0,1425.7 L502.0,1425.6 L505.0,1425.4 L508.0,1425.3 L511.0,1425.1 L514.0,1424.9 L517.0,1424.8 L520.0,1424.6 L523.0,1424.4 L526.0,1424.3 L529.0,1424.1 L532.0,1423.9 L535.0,1423.8 L538.0,1423.6 L541.0,1423.4 L544.0,1423.3 L547.0,1423.1 L550.0,1422.9 L553.0,1422.7 L556.0,1422.6 L559.0,1422.4 L562.0,1422.2 L565.0,1422.0 L568.0,1421.8 L571.0,1421.6 L574.0,1421.4 L577.0,1421.2 L580.0,1421.0 L583.0,1420.8 L586.0,1420.6 L589.0,1420.4 L592.0,1420.2 L595.0,1420.0 L598.0,1419.8 L601.0,1419.6 L604.0,1419.4 L607.0,1419.2 L610.0,1419.0 L613.0,1418.8 L616.0,1418.6 L619.0,1418.4 L622.0,1418.2 L625.0,1417.9 L628.0,1417.7 L631.0,1417.5 L634.0,1417.3 L637.0,1417.1 L640.0,1416.9 L643.0,1416.7 L646.0,1416.5 L649.0,1416.3 L652.0,1416.0 L655.0,1415.8 L658.0,1415.6 L661.0,1415.4 L664.0,1415.2 L667.0,1415.0 L670.0,1414.8 L673.0,1414.6 L676.0,1414.4 L679.0,1414.2 L682.0,1414.0 L685.0,1413.8 L688.0,1413.6 L691.0,1413.4 L694.0,1413.2 L697.0,1413.0 L700.0,1412.8 L703.0,1412.6 L706.0,1412.4 L709.0,1412.2 L712.0,1412.0 L715.0,1411.8 L718.0,1411.6 L721.0,1411.4 L724.0,1411.2 L727.0,1410.9 L730.0,1410.7 L733.0,1410.5 L736.0,1410.3 L739.0,1410.1 L742.0,1409.9 L745.0,1409.6 L748.0,1409.4 L751.0,1409.2 L754.0,1408.9 L757.0,1408.7 L760.0,1408.4 L763.0,1408.2 L766.0,1407.9 L769.0,1407.6 L772.0,1407.4 L775.0,1407.1 L778.0,1406.8 L781.0,1406.5 L784.0,1406.1 L787.0,1405.8 L790.0,1405.5 L793.0,1405.1 L796.0,1404.7 L799.0,1404.3 L802.0,1403.9 L805.0,1403.5 L808.0,1403.0 L811.0,1402.5 L814.0,1402.0 L817.0,1401.4 L820.0,1400.9 L823.0,1400.2 L826.0,1399.6 L829.0,1398.9 L832.0,1398.1 L835.0,1397.3 L838.0,1396.5 L841.0,1395.6 L844.0,1394.6 L847.0,1393.6 L850.0,1392.5 L853.0,1391.3 L856.0,1390.1 L859.0,1388.7 L862.0,1387.3 L865.0,1385.8 L868.0,1384.1 L871.0,1382.4 L874.0,1380.5 L877.0,1378.5 L880.0,1376.4 L883.0,1374.1 L886.0,1371.7 L889.0,1369.2 L892.0,1366.4 L895.0,1363.5 L898.0,1360.5 L901.0,1357.2 L904.0,1353.7 L907.0,1350.0 L910.0,1346.1 L913.0,1342.0 L916.0,1337.7 L919.0,1333.1 L922.0,1328.2 L925.0,1323.1 L928.0,1317.7 L931.0,1312.0 L934.0,1306.1 L937.0,1299.8 L940.0,1293.3 L943.0,1286.5 L946.0,1279.4 L949.0,1271.9 L952.0,1264.2 L955.0,1256.2 L958.0,1247.9 L961.0,1239.3 L964.0,1230.4 L967.0,1221.2 L970.0,1211.7 L973.0,1201.9 L976.0,1191.8 L979.0,1181.5 L982.0,1170.9 L985.0,1160.0 L988.0,1148.9 L991.0,1137.6 L994.0,1126.1 L997.0,1114.4 L1000.0,1102.5 L1003.0,1090.4 L1006.0,1078.2 L1009.0,1065.9 L1012.0,1053.5 L1015.0,1041.0 L1018.0,1028.5 L1021.0,1016.0 L1024.0,1003.5 L1027.0,991.0 L1030.0,978.6 L1033.0,966.4 L1036.0,954.2 L1039.0,942.3 L1042.0,930.5 L1045.0,919.0 L1048.0,907.8 L1051.0,896.9 L1054.0,886.4 L1057.0,876.2 L1060.0,866.5 L1063.0,857.3 L1066.0,848.6 L1069.0,840.5 L1072.0,833.0 L1075.0,826.0 L1078.0,819.7 L1081.0,814.1 L1084.0,809.2 L1087.0,805.0 L1090.0,801.5 L1093.0,798.8 L1096.0,797.1 L1099.0,796.2 L1102.0,795.8 L1105.0,795.8 L1108.0,796.1 L1111.0,796.9 L1114.0,798.2 L1117.0,800.2 L1120.0,803.1 L1123.0,806.9 L1126.0,811.4 L1129.0,816.5 L1132.0,822.2 L1135.0,828.3 L1138.0,834.7 L1141.0,841.5 L1144.0,848.5 L1147.0,855.8 L1150.0,863.4 L1153.0,871.0 L1156.0,878.8 L1159.0,886.6 L1162.0,894.4 L1165.0,902.5 L1168.0,910.7 L1171.0,918.7 L1174.0,926.2 L1177.0,933.1 L1180.0,939.5 L1181.5,942.6 L1183.0,945.6 L1184.5,948.7 L1186.0,951.5 L1187.5,954.3 L1189.0,956.9 L1190.5,959.4 L1192.0,961.8 L1193.5,964.2 L1195.0,966.5 L1196.5,968.7 L1198.0,970.6 L1199.5,972.4 L1201.0,973.7 L1202.5,974.6 L1204.0,975.2 L1205.5,975.3 L1207.0,975.7 L1208.5,976.2 L1210.0,976.4 L1211.5,976.0 L1213.0,975.3 L1214.5,974.4 L1216.0,972.9 L1217.5,970.7 L1219.0,967.4 L1220.5,963.2 L1222.0,959.0 L1223.5,954.9 L1225.0,950.6 L1226.5,945.9 L1228.0,940.5 L1229.5,933.8 L1231.0,925.3 L1232.5,914.4 L1234.0,901.6 L1235.5,887.1 L1237.0,871.2 L1238.5,854.3 L1240.0,836.5 L1240.5,830.4 L1241.0,824.1 L1241.5,817.6 L1242.0,810.9 L1242.5,804.0 L1243.0,797.0 L1243.5,789.8 L1244.0,782.4 L1244.5,774.9 L1245.0,767.3 L1245.5,759.6 L1246.0,751.8 L1246.5,743.8 L1247.0,735.8 L1247.5,727.7 L1248.0,719.5 L1248.5,711.2 L1249.0,702.9 L1249.5,695.0 L1250.0,687.2 L1250.5,679.7 L1251.0,672.3 L1251.5,665.0 L1252.0,657.6 L1252.5,650.2 L1253.0,642.7 L1253.5,634.9 L1254.0,626.9 L1254.5,618.6 L1255.0,609.9 L1255.5,600.7 L1256.0,591.1 L1256.5,580.9 L1257.0,570.2 L1257.5,559.3 L1258.0,548.2 L1258.5,536.9 L1259.0,525.5 L1259.5,514.0 L1260.0,502.3 L1260.5,490.4 L1261.0,478.4 L1261.5,466.3 L1262.0,454.1 L1262.5,441.8 L1263.0,429.5 L1263.5,417.3 L1264.0,405.1 L1264.5,393.0 L1265.0,380.9 L1265.5,368.9 L1266.0,357.0 L1266.5,345.2 L1267.0,333.5 L1267.5,322.0 L1268.0,310.7 L1268.5,299.5 L1269.0,288.5 L1269.5,277.8 L1270.0,267.4 L1270.5,257.2 L1271.0,247.6 L1271.5,238.3 L1272.0,229.6 L1272.5,221.4 L1273.0,213.8 L1273.5,206.8 L1274.0,200.4 L1274.5,194.7 L1275.0,189.6 L1275.5,185.2 L1276.0,181.5 L1276.5,178.6 L1277.0,176.4 L1277.5,174.9 L1278.0,174.3 L1278.5,174.4 L1279.0,175.2 L1279.5,176.7 L1280.0,178.8 L1280.5,181.7 L1281.0,185.1 L1281.5,189.3 L1282.0,194.1 L1282.5,199.5 L1283.0,205.6 L1283.5,212.2 L1284.0,219.5 L1284.5,227.4 L1285.0,235.9 L1285.5,244.8 L1286.0,254.4 L1286.5,264.4 L1287.0,274.9 L1287.5,285.6 L1288.0,296.3 L1288.5,307.1 L1289.0,317.9 L1289.5,328.9 L1290.0,339.9 L1290.5,351.1 L1291.0,362.5 L1291.5,374.1 L1292.0,386.0 L1292.5,398.1 L1293.0,410.5 L1293.5,423.2 L1294.0,436.4 L1294.5,449.9 L1295.0,463.9 L1295.5,478.1 L1296.0,492.3 L1296.5,506.4 L1297.0,520.4 L1297.5,534.4 L1298.0,548.2 L1298.5,561.9 L1299.0,575.4 L1299.5,588.9 L1300.0,602.2 L1300.5,615.3 L1301.0,628.2 L1301.5,640.5 L1302.0,652.3 L1302.5,663.6 L1303.0,674.4 L1303.5,684.8 L1304.0,694.9 L1304.5,704.8 L1305.0,714.4 L1305.5,723.9 L1306.0,733.3 L1306.5,742.6 L1307.0,752.0 L1307.5,761.5 L1308.0,771.1 L1308.5,780.9 L1309.0,790.8 L1309.5,800.7 L1310.0,810.4 L1310.5,819.9 L1311.0,829.4 L1311.5,838.7 L1312.0,847.9 L1312.5,856.9 L1313.0,865.8 L1313.5,874.6 L1314.0,883.2 L1314.5,891.7 L1315.0,900.0 L1315.5,908.2 L1316.0,916.2 L1316.5,924.1 L1317.0,931.9 L1317.5,939.5 L1318.0,947.1 L1318.5,954.7 L1319.0,962.2 L1319.5,969.6 L1320.0,976.9 L1321.5,998.5 L1323.0,1019.2 L1324.5,1039.1 L1326.0,1057.8 L1327.5,1075.2 L1329.0,1090.4 L1330.5,1103.9 L1332.0,1116.5 L1333.5,1128.7 L1335.0,1140.7 L1336.5,1152.6 L1338.0,1164.1 L1339.5,1174.2 L1341.0,1183.2 L1342.5,1191.6 L1344.0,1199.7 L1345.5,1207.5 L1347.0,1215.0 L1348.5,1222.2 L1350.0,1229.0 L1351.5,1235.5 L1353.0,1241.7 L1354.5,1247.7 L1356.0,1253.4 L1357.5,1258.8 L1359.0,1264.1 L1360.5,1269.3 L1362.0,1274.2 L1363.5,1279.0 L1365.0,1283.6 L1366.5,1288.0 L1368.0,1292.1 L1369.5,1296.0 L1371.0,1299.8 L1372.5,1303.2 L1374.0,1306.5 L1375.5,1309.5 L1377.0,1312.3 L1378.5,1314.9 L1380.0,1317.4 L1381.5,1319.9 L1383.0,1322.4 L1384.5,1324.9 L1386.0,1327.2 L1387.5,1329.4 L1389.0,1331.5 L1390.5,1333.5 L1392.0,1335.4 L1393.5,1337.2 L1395.0,1338.9 L1396.5,1340.6 L1398.0,1342.2 L1399.5,1343.7 L1400.0,1344.2 L1403.0,1347.0 L1406.0,1349.6 L1409.0,1352.0 L1412.0,1354.2 L1415.0,1356.2 L1418.0,1358.1 L1421.0,1359.9 L1424.0,1361.6 L1427.0,1363.2 L1430.0,1364.8 L1433.0,1366.2 L1436.0,1367.6 L1439.0,1368.9 L1442.0,1370.1 L1445.0,1371.3 L1448.0,1372.3 L1451.0,1373.3 L1454.0,1374.2 L1457.0,1375.0 L1460.0,1375.9 L1463.0,1376.7 L1466.0,1377.5 L1469.0,1378.3 L1472.0,1379.1 L1475.0,1379.8 L1478.0,1380.6 L1481.0,1381.3 L1484.0,1382.0 L1487.0,1382.6 L1490.0,1383.3 L1493.0,1383.9 L1496.0,1384.6 L1499.0,1385.2 L1502.0,1385.8 L1505.0,1386.4 L1508.0,1386.9 L1511.0,1387.4 L1514.0,1387.9 L1517.0,1388.3 L1520.0,1388.7 L1523.0,1389.1 L1526.0,1389.5 L1529.0,1389.8 L1532.0,1390.2 L1535.0,1390.5 L1538.0,1390.9 L1541.0,1391.2 L1544.0,1391.5 L1547.0,1391.9 L1550.0,1392.2 L1553.0,1392.5 L1556.0,1392.8 L1559.0,1393.0 L1562.0,1393.3 L1565.0,1393.6 L1568.0,1393.8 L1571.0,1394.1 L1574.0,1394.3 L1577.0,1394.5 L1580.0,1394.8 L1583.0,1395.0 L1586.0,1395.2 L1589.0,1395.3 L1592.0,1395.5 L1595.0,1395.7 L1598.0,1395.9 L1601.0,1396.1 L1604.0,1396.3 L1607.0,1396.5 L1610.0,1396.7 L1613.0,1396.8 L1616.0,1397.0 L1619.0,1397.2 L1622.0,1397.3 L1625.0,1397.4 L1628.0,1397.6 L1631.0,1397.7 L1634.0,1397.8 L1637.0,1397.9 L1640.0,1398.1 L1643.0,1398.2 L1646.0,1398.3 L1649.0,1398.4 L1652.0,1398.5 L1655.0,1398.6 L1658.0,1398.7 L1661.0,1398.8 L1664.0,1398.9 L1667.0,1399.0 L1670.0,1399.1 L1673.0,1399.1 L1676.0,1399.2 L1679.0,1399.3 L1682.0,1399.4 L1685.0,1399.5 L1688.0,1399.5 L1691.0,1399.6 L1694.0,1399.7 L1697.0,1399.7 L1700.0,1399.8 L1703.0,1399.8 L1706.0,1399.9 L1709.0,1399.9 L1712.0,1400.0 L1715.0,1400.0 L1718.0,1400.1 L1721.0,1400.1 L1724.0,1400.2 L1727.0,1400.2 L1730.0,1400.3 L1733.0,1400.3 L1736.0,1400.3 L1739.0,1400.4 L1742.0,1400.4 L1745.0,1400.4 L1748.0,1400.5 L1751.0,1400.5 L1754.0,1400.5 L1757.0,1400.6 L1760.0,1400.6 L1763.0,1400.6 L1766.0,1400.6 L1769.0,1400.7 L1772.0,1400.7 L1775.0,1400.7 L1778.0,1400.7 L1781.0,1400.8 L1784.0,1400.8 L1787.0,1400.8 L1790.0,1400.8 L1793.0,1400.8 L1796.0,1400.9 L1799.0,1400.9 L1802.0,1400.9 L1805.0,1400.9 L1808.0,1400.9 L1811.0,1400.9 L1814.0,1400.9 L1817.0,1401.0 L1820.0,1401.0 L1823.0,1401.0 L1826.0,1401.0 L1829.0,1401.0 L1832.0,1401.0 L1835.0,1401.0 L1838.0,1401.0 L1841.0,1401.0 L1844.0,1401.0 L1847.0,1401.0 L1850.0,1401.0 L1853.0,1401.0 L1856.0,1401.0 L1859.0,1401.1 L1862.0,1401.1 L1865.0,1401.1 L1868.0,1401.1 L1871.0,1401.1 L1874.0,1401.1 L1877.0,1401.1 L1880.0,1401.1 L1883.0,1401.1 L1886.0,1401.1 L1889.0,1401.1 L1892.0,1401.1 L1895.0,1401.1 L1898.0,1401.1 L1901.0,1401.1 L1904.0,1401.1 L1907.0,1401.1 L1910.0,1401.1 L1913.0,1401.1 L1916.0,1401.1 L1919.0,1401.1 L1922.0,1401.1 L1925.0,1401.1 L1928.0,1401.1 L1931.0,1401.1 L1934.0,1401.1 L1937.0,1401.1 L1940.0,1401.0 L1943.0,1401.0 L1946.0,1401.0 L1949.0,1401.0 L1952.0,1401.0 L1955.0,1401.0 L1958.0,1401.0 L1961.0,1401.0 L1964.0,1401.0 L1967.0,1401.0 L1970.0,1401.0 L1973.0,1401.0 L1976.0,1401.0 L1979.0,1401.0 L1982.0,1401.0 L1985.0,1401.0 L1988.0,1401.0 L1991.0,1401.0 L1994.0,1401.0 L1997.0,1401.0 L2000.0,1401.0 L2003.0,1401.0 L2006.0,1401.0 L2009.0,1401.0 L2012.0,1401.0 L2015.0,1401.0 L2018.0,1401.0 L2021.0,1401.0 L2024.0,1401.0 L2027.0,1401.0 L2030.0,1401.0 L2033.0,1401.0 L2036.0,1401.0 L2039.0,1401.0 L2042.0,1401.0 L2045.0,1401.0 L2048.0,1401.0 L2051.0,1401.0 L2054.0,1401.0 L2057.0,1401.0 L2060.0,1401.0 L2063.0,1401.0 L2066.0,1401.0 L2069.0,1401.0 L2072.0,1401.0 L2075.0,1401.0 L2078.0,1401.0 L2081.0,1401.1 L2084.0,1401.1 L2087.0,1401.1 L2090.0,1401.1 L2093.0,1401.1 L2096.0,1401.1 L2099.0,1401.1 L2102.0,1401.1 L2105.0,1401.1 L2108.0,1401.1 L2111.0,1401.1 L2114.0,1401.1 L2117.0,1401.1 L2120.0,1401.1 L2123.0,1401.1 L2126.0,1401.1 L2129.0,1401.1 L2132.0,1401.1 L2135.0,1401.1 L2138.0,1401.1 L2141.0,1401.1 L2144.0,1401.2 L2147.0,1401.2 L2150.0,1401.2 L2153.0,1401.2 L2156.0,1401.2 L2159.0,1401.2 L2162.0,1401.2 L2165.0,1401.2 L2168.0,1401.2 L2171.0,1401.2 L2174.0,1401.2 L2177.0,1401.2 L2180.0,1401.2 L2183.0,1401.2 L2186.0,1401.3 L2189.0,1401.3 L2192.0,1401.3 L2195.0,1401.3 L2198.0,1401.3 L2201.0,1401.3 L2204.0,1401.3 L2207.0,1401.3 L2210.0,1401.3 L2213.0,1401.3 L2216.0,1401.3 L2219.0,1401.3 L2222.0,1401.4 L2225.0,1401.4 L2228.0,1401.4 L2231.0,1401.4 L2234.0,1401.4 L2237.0,1401.4 L2240.0,1401.4 L2243.0,1401.4 L2246.0,1401.4 L2249.0,1401.4 L2252.0,1401.4 L2255.0,1401.5 L2258.0,1401.5 L2261.0,1401.5 L2264.0,1401.5 L2267.0,1401.5 L2270.0,1401.5 L2273.0,1401.5 L2273.7,1401.5"/>
<path id="dpk" stroke="#00ff00" d="M226.0,1468.6 L229.0,1468.6 L232.0,1468.6 L235.0,1468.6 L238.0,1468.6 L241.0,1468.6 L244.0,1468.6 L247.0,1468.6 L250.0,1468.6 L253.0,1468.5 L256.0,1468.5 L259.0,1468.5 L262.0,1468.5 L265.0,1468.5 L268.0,1468.5 L271.0,1468.5 L274.0,1468.5 L277.0,1468.5 L280.0,1468.5 L283.0,1468.5 L286.0,1468.4 L289.0,1468.4 L292.0,1468.4 L295.0,1468.4 L298.0,1468.4 L301.0,1468.4 L304.0,1468.4 L307.0,1468.4 L310.0,1468.4 L313.0,1468.4 L316.0,1468.3 L319.0,1468.3 L322.0,1468.3 L325.0,1468.3 L328.0,1468.3 L331.0,1468.3 L334.0,1468.3 L337.0,1468.3 L340.0,1468.2 L343.0,1468.2 L346.0,1468.2 L349.0,1468.2 L352.0,1468.2 L355.0,1468.2 L358.0,1468.2 L361.0,1468.2 L364.0,1468.1 L367.0,1468.1 L370.0,1468.1 L373.0,1468.1 L376.0,1468.1 L379.0,1468.1 L382.0,1468.1 L385.0,1468.1 L388.0,1468.0 L391.0,1468.0 L394.0,1468.0 L397.0,1468.0 L400.0,1468.0 L403.0,1468.0 L406.0,1467.9 L409.0,1467.9 L412.0,1467.9 L415.0,1467.9 L418.0,1467.9 L421.0,1467.9 L424.0,1467.8 L427.0,1467.8 L430.0,1467.8 L433.0,1467.8 L436.0,1467.8 L439.0,1467.8 L442.0,1467.7 L445.0,1467.7 L448.0,1467.7 L451.0,1467.7 L454.0,1467.7 L457.0,1467.6 L460.0,1467.6 L463.0,1467.6 L466.0,1467.6 L469.0,1467.6 L472.0,1467.5 L475.0,1467.5 L478.0,1467.5 L481.0,1467.5 L484.0,1467.5 L487.0,1467.4 L490.0,1467.4 L493.0,1467.4 L496.0,1467.4 L499.0,1467.3 L502.0,1467.3 L505.0,1467.3 L508.0,1467.3 L511.0,1467.2 L514.0,1467.2 L517.0,1467.2 L520.0,1467.2 L523.0,1467.1 L526.0,1467.1 L529.0,1467.1 L532.0,1467.1 L535.0,1467.0 L538.0,1467.0 L541.0,1467.0 L544.0,1466.9 L547.0,1466.9 L550.0,1466.9 L553.0,1466.9 L556.0,1466.8 L559.0,1466.8 L562.0,1466.8 L565.0,1466.7 L568.0,1466.7 L571.0,1466.7 L574.0,1466.6 L577.0,1466.6 L580.0,1466.6 L583.0,1466.5 L586.0,1466.5 L589.0,1466.4 L592.0,1466.4 L595.0,1466.4 L598.0,1466.3 L601.0,1466.3 L604.0,1466.2 L607.0,1466.2 L610.0,1466.2 L613.0,1466.1 L616.0,1466.1 L619.0,1466.0 L622.0,1466.0 L625.0,1465.9 L628.0,1465.9 L631.0,1465.8 L634.0,1465.8 L637.0,1465.7 L640.0,1465.7 L643.0,1465.6 L646.0,1465.6 L649.0,1465.5 L652.0,1465.5 L655.0,1465.4 L658.0,1465.4 L661.0,1465.3 L664.0,1465.3 L667.0,1465.2 L670.0,1465.1 L673.0,1465.1 L676.0,1465.0 L679.0,1464.9 L682.0,1464.9 L685.0,1464.8 L688.0,1464.7 L691.0,1464.7 L694.0,1464.6 L697.0,1464.5 L700.0,1464.4 L703.0,1464.4 L706.0,1464.3 L709.0,1464.2 L712.0,1464.1 L715.0,1464.0 L718.0,1463.9 L721.0,1463.9 L724.0,1463.8 L727.0,1463.7 L730.0,1463.6 L733.0,1463.5 L736.0,1463.4 L739.0,1463.3 L742.0,1463.1 L745.0,1463.0 L748.0,1462.9 L751.0,1462.8 L754.0,1462.7 L757.0,1462.5 L760.0,1462.4 L763.0,1462.2 L766.0,1462.1 L769.0,1461.9 L772.0,1461.7 L775.0,1461.6 L778.0,1461.4 L781.0,1461.2 L784.0,1461.0 L787.0,1460.8 L790.0,1460.5 L793.0,1460.3 L796.0,1460.0 L799.0,1459.7 L802.0,1459.4 L805.0,1459.1 L808.0,1458.8 L811.0,1458.4 L814.0,1458.0 L817.0,1457.6 L820.0,1457.1 L823.0,1456.6 L826.0,1456.1 L829.0,1455.6 L832.0,1455.0 L835.0,1454.3 L838.0,1453.6 L841.0,1452.8 L844.0,1452.0 L847.0,1451.2 L850.0,1450.2 L853.0,1449.2 L856.0,1448.1 L859.0,1446.9 L862.0,1445.6 L865.0,1444.3 L868.0,1442.8 L871.0,1441.2 L874.0,1439.6 L877.0,1437.7 L880.0,1435.8 L883.0,1433.7 L886.0,1431.5 L889.0,1429.1 L892.0,1426.6 L895.0,1423.9 L898.0,1421.0 L901.0,1417.9 L904.0,1414.6 L907.0,1411.2 L910.0,1407.5 L913.0,1403.6 L916.0,1399.5 L919.0,1395.1 L922.0,1390.5 L925.0,1385.6 L928.0,1380.5 L931.0,1375.1 L934.0,1369.4 L937.0,1363.5 L940.0,1357.2 L943.0,1350.7 L946.0,1343.9 L949.0,1336.8 L952.0,1329.4 L955.0,1321.7 L958.0,1313.7 L961.0,1305.3 L964.0,1296.7 L967.0,1287.8 L970.0,1278.7 L973.0,1269.2 L976.0,1259.4 L979.0,1249.4 L982.0,1239.1 L985.0,1228.6 L988.0,1217.8 L991.0,1206.8 L994.0,1195.6 L997.0,1184.3 L1000.0,1172.7 L1003.0,1161.0 L1006.0,1149.2 L1009.0,1137.2 L1012.0,1125.2 L1015.0,1113.1 L1018.0,1101.0 L1021.0,1088.9 L1024.0,1076.8 L1027.0,1064.8 L1030.0,1052.8 L1033.0,1041.0 L1036.0,1029.4 L1039.0,1017.9 L1042.0,1006.6 L1045.0,995.7 L1048.0,985.0 L1051.0,974.6 L1054.0,964.7 L1057.0,955.1 L1060.0,946.0 L1063.0,937.3 L1066.0,929.2 L1069.0,921.6 L1072.0,914.6 L1075.0,908.2 L1078.0,902.4 L1081.0,897.4 L1084.0,892.9 L1087.0,889.3 L1090.0,886.3 L1093.0,884.1 L1096.0,882.6 L1099.0,881.9 L1102.0,881.9 L1105.0,882.7 L1108.0,884.3 L1111.0,886.6 L1114.0,889.7 L1117.0,893.5 L1120.0,898.0 L1123.0,903.2 L1126.0,909.0 L1129.0,915.5 L1132.0,922.6 L1135.0,930.2 L1138.0,938.4 L1141.0,947.2 L1144.0,956.3 L1147.0,966.0 L1150.0,976.0 L1153.0,986.4 L1156.0,997.1 L1159.0,1008.1 L1162.0,1019.4 L1165.0,1030.9 L1168.0,1042.6 L1171.0,1054.4 L1174.0,1066.4 L1177.0,1078.4 L1180.0,1090.5 L1181.5,1096.6 L1183.0,1102.6 L1184.5,1108.7 L1186.0,1114.7 L1187.5,1120.8 L1189.0,1126.8 L1190.5,1132.8 L1192.0,1138.8 L1193.5,1144.8 L1195.0,1150.8 L1196.5,1156.7 L1198.0,1162.6 L1199.5,1168.4 L1201.0,1174.3 L1202.5,1180.0 L1204.0,1185.8 L1205.5,1191.5 L1207.0,1197.2 L1208.5,1202.8 L1210.0,1208.3 L1211.5,1213.8 L1213.0,1219.3 L1214.5,1224.7 L1216.0,1230.0 L1217.5,1235.3 L1219.0,1240.5 L1220.5,1245.7 L1222.0,1250.8 L1223.5,1255.8 L1225.0,1260.7 L1226.5,1265.6 L1228.0,1270.5 L1229.5,1275.2 L1231.0,1279.9 L1232.5,1284.5 L1234.0,1289.0 L1235.5,1293.5 L1237.0,1297.9 L1238.5,1302.2 L1240.0,1306.5 L1240.5,1307.9 L1241.0,1309.3 L1241.5,1310.6 L1242.0,1312.0 L1242.5,1313.4 L1243.0,1314.7 L1243.5,1316.1 L1244.0,1317.4 L1244.5,1318.8 L1245.0,1320.1 L1245.5,1321.4 L1246.0,1322.7 L1246.5,1324.0 L1247.0,1325.3 L1247.5,1326.6 L1248.0,1327.9 L1248.5,1329.1 L1249.0,1330.4 L1249.5,1331.6 L1250.0,1332.9 L1250.5,1334.1 L1251.0,1335.3 L1251.5,1336.5 L1252.0,1337.7 L1252.5,1338.9 L1253.0,1340.1 L1253.5,1341.3 L1254.0,1342.5 L1254.5,1343.7 L1255.0,1344.8 L1255.5,1346.0 L1256.0,1347.1 L1256.5,1348.2 L1257.0,1349.4 L1257.5,1350.5 L1258.0,1351.6 L1258.5,1352.7 L1259.0,1353.8 L1259.5,1354.9 L1260.0,1355.9 L1260.5,1357.0 L1261.0,1358.1 L1261.5,1359.1 L1262.0,1360.2 L1262.5,1361.2 L1263.0,1362.2 L1263.5,1363.3 L1264.0,1364.3 L1264.5,1365.3 L1265.0,1366.3 L1265.5,1367.3 L1266.0,1368.2 L1266.5,1369.2 L1267.0,1370.2 L1267.5,1371.1 L1268.0,1372.1 L1268.5,1373.0 L1269.0,1374.0 L1269.5,1374.9 L1270.0,1375.8 L1270.5,1376.7 L1271.0,1377.6 L1271.5,1378.5 L1272.0,1379.4 L1272.5,1380.3 L1273.0,1381.2 L1273.5,1382.0 L1274.0,1382.9 L1274.5,1383.7 L1275.0,1384.6 L1275.5,1385.4 L1276.0,1386.3 L1276.5,1387.1 L1277.0,1387.9 L1277.5,1388.7 L1278.0,1389.5 L1278.5,1390.3 L1279.0,1391.1 L1279.5,1391.9 L1280.0,1392.6 L1280.5,1393.4 L1281.0,1394.2 L1281.5,1394.9 L1282.0,1395.7 L1282.5,1396.4 L1283.0,1397.2 L1283.5,1397.9 L1284.0,1398.6 L1284.5,1399.3 L1285.0,1400.0 L1285.5,1400.7 L1286.0,1401.4 L1286.5,1402.1 L1287.0,1402.8 L1287.5,1403.5 L1288.0,1404.1 L1288.5,1404.8 L1289.0,1405.4 L1289.5,1406.1 L1290.0,1406.7 L1290.5,1407.4 L1291.0,1408.0 L1291.5,1408.6 L1292.0,1409.2 L1292.5,1409.8 L1293.0,1410.5 L1293.5,1411.1 L1294.0,1411.6 L1294.5,1412.2 L1295.0,1412.8 L1295.5,1413.4 L1296.0,1414.0 L1296.5,1414.5 L1297.0,1415.1 L1297.5,1415.6 L1298.0,1416.2 L1298.5,1416.7 L1299.0,1417.3 L1299.5,1417.8 L1300.0,1418.3 L1300.5,1418.9 L1301.0,1419.4 L1301.5,1419.9 L1302.0,1420.4 L1302.5,1420.9 L1303.0,1421.4 L1303.5,1421.9 L1304.0,1422.4 L1304.5,1422.8 L1305.0,1423.3 L1305.5,1423.8 L1306.0,1424.2 L1306.5,1424.7 L1307.0,1425.2 L1307.5,1425.6 L1308.0,1426.1 L1308.5,1426.5 L1309.0,1426.9 L1309.5,1427.4 L1310.0,1427.8 L1310.5,1428.2 L1311.0,1428.6 L1311.5,1429.0 L1312.0,1429.4 L1312.5,1429.9 L1313.0,1430.3 L1313.5,1430.6 L1314.0,1431.0 L1314.5,1431.4 L1315.0,1431.8 L1315.5,1432.2 L1316.0,1432.6 L1316.5,1432.9 L1317.0,1433.3 L1317.5,1433.7 L1318.0,1434.0 L1318.5,1434.4 L1319.0,1434.7 L1319.5,1435.1 L1320.0,1435.4 L1321.5,1436.4 L1323.0,1437.4 L1324.5,1438.3 L1326.0,1439.2 L1327.5,1440.1 L1329.0,1440.9 L1330.5,1441.7 L1332.0,1442.5 L1333.5,1443.3 L1335.0,1444.0 L1336.5,1444.7 L1338.0,1445.4 L1339.5,1446.0 L1341.0,1446.7 L1342.5,1447.3 L1344.0,1447.9 L1345.5,1448.4 L1347.0,1449.0 L1348.5,1449.5 L1350.0,1450.0 L1351.5,1450.5 L1353.0,1451.0 L1354.5,1451.4 L1356.0,1451.9 L1357.5,1452.3 L1359.0,1452.7 L1360.5,1453.1 L1362.0,1453.5 L1363.5,1453.8 L1365.0,1454.2 L1366.5,1454.5 L1368.0,1454.8 L1369.5,1455.1 L1371.0,1455.4 L1372.5,1455.7 L1374.0,1456.0 L1375.5,1456.3 L1377.0,1456.5 L1378.5,1456.8 L1380.0,1457.0 L1381.5,1457.3 L1383.0,1457.5 L1384.5,1457.7 L1386.0,1457.9 L1387.5,1458.1 L1389.0,1458.3 L1390.5,1458.5 L1392.0,1458.7 L1393.5,1458.9 L1395.0,1459.0 L1396.5,1459.2 L1398.0,1459.4 L1399.5,1459.5 L1400.0,1459.6 L1403.0,1459.9 L1406.0,1460.1 L1409.0,1460.4 L1412.0,1460.6 L1415.0,1460.9 L1418.0,1461.1 L1421.0,1461.3 L1424.0,1461.5 L1427.0,1461.7 L1430.0,1461.8 L1433.0,1462.0 L1436.0,1462.1 L1439.0,1462.3 L1442.0,1462.4 L1445.0,1462.6 L1448.0,1462.7 L1451.0,1462.8 L1454.0,1463.0 L1457.0,1463.1 L1460.0,1463.2 L1463.0,1463.3 L1466.0,1463.4 L1469.0,1463.5 L1472.0,1463.6 L1475.0,1463.7 L1478.0,1463.8 L1481.0,1463.9 L1484.0,1464.0 L1487.0,1464.1 L1490.0,1464.2 L1493.0,1464.2 L1496.0,1464.3 L1499.0,1464.4 L1502.0,1464.5 L1505.0,1464.6 L1508.0,1464.6 L1511.0,1464.7 L1514.0,1464.8 L1517.0,1464.8 L1520.0,1464.9 L1523.0,1465.0 L1526.0,1465.0 L1529.0,1465.1 L1532.0,1465.2 L1535.0,1465.2 L1538.0,1465.3 L1541.0,1465.3 L1544.0,1465.4 L1547.0,1465.5 L1550.0,1465.5 L1553.0,1465.6 L1556.0,1465.6 L1559.0,1465.7 L1562.0,1465.7 L1565.0,1465.8 L1568.0,1465.8 L1571.0,1465.9 L1574.0,1465.9 L1577.0,1466.0 L1580.0,1466.0 L1583.0,1466.1 L1586.0,1466.1 L1589.0,1466.1 L1592.0,1466.2 L1595.0,1466.2 L1598.0,1466.3 L1601.0,1466.3 L1604.0,1466.3 L1607.0,1466.4 L1610.0,1466.4 L1613.0,1466.5 L1616.0,1466.5 L1619.0,1466.5 L1622.0,1466.6 L1625.0,1466.6 L1628.0,1466.6 L1631.0,1466.7 L1634.0,1466.7 L1637.0,1466.7 L1640.0,1466.8 L1643.0,1466.8 L1646.0,1466.8 L1649.0,1466.9 L1652.0,1466.9 L1655.0,1466.9 L1658.0,1467.0 L1661.0,1467.0 L1664.0,1467.0 L1667.0,1467.0 L1670.0,1467.1 L1673.0,1467.1 L1676.0,1467.1 L1679.0,1467.2 L1682.0,1467.2 L1685.0,1467.2 L1688.0,1467.2 L1691.0,1467.3 L1694.0,1467.3 L1697.0,1467.3 L1700.0,1467.3 L1703.0,1467.4 L1706.0,1467.4 L1709.0,1467.4 L1712.0,1467.4 L1715.0,1467.5 L1718.0,1467.5 L1721.0,1467.5 L1724.0,1467.5 L1727.0,1467.5 L1730.0,1467.6 L1733.0,1467.6 L1736.0,1467.6 L1739.0,1467.6 L1742.0,1467.6 L1745.0,1467.7 L1748.0,1467.7 L1751.0,1467.7 L1754.0,1467.7 L1757.0,1467.7 L1760.0,1467.8 L1763.0,1467.8 L1766.0,1467.8 L1769.0,1467.8 L1772.0,1467.8 L1775.0,1467.8 L1778.0,1467.9 L1781.0,1467.9 L1784.0,1467.9 L1787.0,1467.9 L1790.0,1467.9 L1793.0,1467.9 L1796.0,1468.0 L1799.0,1468.0 L1802.0,1468.0 L1805.0,1468.0 L1808.0,1468.0 L1811.0,1468.0 L1814.0,1468.0 L1817.0,1468.1 L1820.0,1468.1 L1823.0,1468.1 L1826.0,1468.1 L1829.0,1468.1 L1832.0,1468.1 L1835.0,1468.1 L1838.0,1468.2 L1841.0,1468.2 L1844.0,1468.2 L1847.0,1468.2 L1850.0,1468.2 L1853.0,1468.2 L1856.0,1468.2 L1859.0,1468.2 L1862.0,1468.3 L1865.0,1468.3 L1868.0,1468.3 L1871.0,1468.3 L1874.0,1468.3 L1877.0,1468.3 L1880.0,1468.3 L1883.0,1468.3 L1886.0,1468.3 L1889.0,1468.4 L1892.0,1468.4 L1895.0,1468.4 L1898.0,1468.4 L1901.0,1468.4 L1904.0,1468.4 L1907.0,1468.4 L1910.0,1468.4 L1913.0,1468.4 L1916.0,1468.4 L1919.0,1468.5 L1922.0,1468.5 L1925.0,1468.5 L1928.0,1468.5 L1931.0,1468.5 L1934.0,1468.5 L1937.0,1468.5 L1940.0,1468.5 L1943.0,1468.5 L1946.0,1468.5 L1949.0,1468.6 L1952.0,1468.6 L1955.0,1468.6 L1958.0,1468.6 L1961.0,1468.6 L1964.0,1468.6 L1967.0,1468.6 L1970.0,1468.6 L1973.0,1468.6 L1976.0,1468.6 L1979.0,1468.6 L1982.0,1468.6 L1985.0,1468.6 L1988.0,1468.7 L1991.0,1468.7 L1994.0,1468.7 L1997.0,1468.7 L2000.0,1468.7 L2003.0,1468.7 L2006.0,1468.7 L2009.0,1468.7 L2012.0,1468.7 L2015.0,1468.7 L2018.0,1468.7 L2021.0,1468.7 L2024.0,1468.7 L2027.0,1468.8 L2030.0,1468.8 L2033.0,1468.8 L2036.0,1468.8 L2039.0,1468.8 L2042.0,1468.8 L2045.0,1468.8 L2048.0,1468.8 L2051.0,1468.8 L2054.0,1468.8 L2057.0,1468.8 L2060.0,1468.8 L2063.0,1468.8 L2066.0,1468.8 L2069.0,1468.8 L2072.0,1468.8 L2075.0,1468.9 L2078.0,1468.9 L2081.0,1468.9 L2084.0,1468.9 L2087.0,1468.9 L2090.0,1468.9 L2093.0,1468.9 L2096.0,1468.9 L2099.0,1468.9 L2102.0,1468.9 L2105.0,1468.9 L2108.0,1468.9 L2111.0,1468.9 L2114.0,1468.9 L2117.0,1468.9 L2120.0,1468.9 L2123.0,1468.9 L2126.0,1468.9 L2129.0,1468.9 L2132.0,1469.0 L2135.0,1469.0 L2138.0,1469.0 L2141.0,1469.0 L2144.0,1469.0 L2147.0,1469.0 L2150.0,1469.0 L2153.0,1469.0 L2156.0,1469.0 L2159.0,1469.0 L2162.0,1469.0 L2165.0,1469.0 L2168.0,1469.0 L2171.0,1469.0 L2174.0,1469.0 L2177.0,1469.0 L2180.0,1469.0 L2183.0,1469.0 L2186.0,1469.0 L2189.0,1469.0 L2192.0,1469.0 L2195.0,1469.0 L2198.0,1469.0 L2201.0,1469.1 L2204.0,1469.1 L2207.0,1469.1 L2210.0,1469.1 L2213.0,1469.1 L2216.0,1469.1 L2219.0,1469.1 L2222.0,1469.1 L2225.0,1469.1 L2228.0,1469.1 L2231.0,1469.1 L2234.0,1469.1 L2237.0,1469.1 L2240.0,1469.1 L2243.0,1469.1 L2246.0,1469.1 L2249.0,1469.1 L2252.0,1469.1 L2255.0,1469.1 L2258.0,1469.1 L2261.0,1469.1 L2264.0,1469.1 L2267.0,1469.1 L2270.0,1469.1 L2273.0,1469.1 L2273.7,1469.1"/>
<path id="gpk" stroke="#0000ff" d="M226.0,1468.7 L229.0,1468.7 L232.0,1468.7 L235.0,1468.7 L238.0,1468.7 L241.0,1468.7 L244.0,1468.7 L247.0,1468.7 L250.0,1468.7 L253.0,1468.7 L256.0,1468.7 L259.0,1468.7 L262.0,1468.7 L265.0,1468.6 L268.0,1468.6 L271.0,1468.6 L274.0,1468.6 L277.0,1468.6 L280.0,1468.6 L283.0,1468.6 L286.0,1468.6 L289.0,1468.6 L292.0,1468.6 L295.0,1468.6 L298.0,1468.6 L301.0,1468.6 L304.0,1468.6 L307.0,1468.6 L310.0,1468.6 L313.0,1468.6 L316.0,1468.6 L319.0,1468.5 L322.0,1468.5 L325.0,1468.5 L328.0,1468.5 L331.0,1468.5 L334.0,1468.5 L337.0,1468.5 L340.0,1468.5 L343.0,1468.5 L346.0,1468.5 L349.0,1468.5 L352.0,1468.5 L355.0,1468.5 L358.0,1468.5 L361.0,1468.5 L364.0,1468.5 L367.0,1468.4 L370.0,1468.4 L373.0,1468.4 L376.0,1468.4 L379.0,1468.4 L382.0,1468.4 L385.0,1468.4 L388.0,1468.4 L391.0,1468.4 L394.0,1468.4 L397.0,1468.4 L400.0,1468.4 L403.0,1468.4 L406.0,1468.3 L409.0,1468.3 L412.0,1468.3 L415.0,1468.3 L418.0,1468.3 L421.0,1468.3 L424.0,1468.3 L427.0,1468.3 L430.0,1468.3 L433.0,1468.3 L436.0,1468.3 L439.0,1468.3 L442.0,1468.2 L445.0,1468.2 L448.0,1468.2 L451.0,1468.2 L454.0,1468.2 L457.0,1468.2 L460.0,1468.2 L463.0,1468.2 L466.0,1468.2 L469.0,1468.2 L472.0,1468.1 L475.0,1468.1 L478.0,1468.1 L481.0,1468.1 L484.0,1468.1 L487.0,1468.1 L490.0,1468.1 L493.0,1468.1 L496.0,1468.1 L499.0,1468.0 L502.0,1468.0 L505.0,1468.0 L508.0,1468.0 L511.0,1468.0 L514.0,1468.0 L517.0,1468.0 L520.0,1468.0 L523.0,1468.0 L526.0,1467.9 L529.0,1467.9 L532.0,1467.9 L535.0,1467.9 L538.0,1467.9 L541.0,1467.9 L544.0,1467.9 L547.0,1467.8 L550.0,1467.8 L553.0,1467.8 L556.0,1467.8 L559.0,1467.8 L562.0,1467.8 L565.0,1467.8 L568.0,1467.7 L571.0,1467.7 L574.0,1467.7 L577.0,1467.7 L580.0,1467.7 L583.0,1467.7 L586.0,1467.7 L589.0,1467.6 L592.0,1467.6 L595.0,1467.6 L598.0,1467.6 L601.0,1467.6 L604.0,1467.5 L607.0,1467.5 L610.0,1467.5 L613.0,1467.5 L616.0,1467.5 L619.0,1467.5 L622.0,1467.4 L625.0,1467.4 L628.0,1467.4 L631.0,1467.4 L634.0,1467.4 L637.0,1467.3 L640.0,1467.3 L643.0,1467.3 L646.0,1467.3 L649.0,1467.3 L652.0,1467.2 L655.0,1467.2 L658.0,1467.2 L661.0,1467.2 L664.0,1467.1 L667.0,1467.1 L670.0,1467.1 L673.0,1467.1 L676.0,1467.0 L679.0,1467.0 L682.0,1467.0 L685.0,1467.0 L688.0,1466.9 L691.0,1466.9 L694.0,1466.9 L697.0,1466.9 L700.0,1466.8 L703.0,1466.8 L706.0,1466.8 L709.0,1466.7 L712.0,1466.7 L715.0,1466.7 L718.0,1466.6 L721.0,1466.6 L724.0,1466.6 L727.0,1466.5 L730.0,1466.5 L733.0,1466.5 L736.0,1466.4 L739.0,1466.4 L742.0,1466.4 L745.0,1466.3 L748.0,1466.3 L751.0,1466.3 L754.0,1466.2 L757.0,1466.2 L760.0,1466.1 L763.0,1466.1 L766.0,1466.1 L769.0,1466.0 L772.0,1466.0 L775.0,1465.9 L778.0,1465.9 L781.0,1465.8 L784.0,1465.8 L787.0,1465.8 L790.0,1465.7 L793.0,1465.7 L796.0,1465.6 L799.0,1465.6 L802.0,1465.5 L805.0,1465.4 L808.0,1465.4 L811.0,1465.3 L814.0,1465.3 L817.0,1465.2 L820.0,1465.1 L823.0,1465.1 L826.0,1465.0 L829.0,1464.9 L832.0,1464.9 L835.0,1464.8 L838.0,1464.7 L841.0,1464.6 L844.0,1464.6 L847.0,1464.5 L850.0,1464.4 L853.0,1464.3 L856.0,1464.2 L859.0,1464.1 L862.0,1464.1 L865.0,1464.0 L868.0,1463.9 L871.0,1463.8 L874.0,1463.7 L877.0,1463.6 L880.0,1463.5 L883.0,1463.3 L886.0,1463.2 L889.0,1463.1 L892.0,1463.0 L895.0,1462.9 L898.0,1462.8 L901.0,1462.6 L904.0,1462.5 L907.0,1462.4 L910.0,1462.2 L913.0,1462.1 L916.0,1461.9 L919.0,1461.8 L922.0,1461.6 L925.0,1461.5 L928.0,1461.3 L931.0,1461.1 L934.0,1460.9 L937.0,1460.7 L940.0,1460.5 L943.0,1460.3 L946.0,1460.0 L949.0,1459.8 L952.0,1459.6 L955.0,1459.3 L958.0,1459.1 L961.0,1458.9 L964.0,1458.7 L967.0,1458.4 L970.0,1458.2 L973.0,1458.0 L976.0,1457.7 L979.0,1457.5 L982.0,1457.2 L985.0,1457.0 L988.0,1456.7 L991.0,1456.4 L994.0,1456.1 L997.0,1455.9 L1000.0,1455.6 L1003.0,1455.2 L1006.0,1454.9 L1009.0,1454.6 L1012.0,1454.3 L1015.0,1453.9 L1018.0,1453.6 L1021.0,1453.2 L1024.0,1452.8 L1027.0,1452.5 L1030.0,1452.1 L1033.0,1451.6 L1036.0,1451.2 L1039.0,1450.8 L1042.0,1450.3 L1045.0,1449.8 L1048.0,1449.4 L1051.0,1448.8 L1054.0,1448.3 L1057.0,1447.8 L1060.0,1447.3 L1063.0,1446.8 L1066.0,1446.2 L1069.0,1445.7 L1072.0,1445.1 L1075.0,1444.5 L1078.0,1443.9 L1081.0,1443.3 L1084.0,1442.7 L1087.0,1442.0 L1090.0,1441.4 L1093.0,1440.7 L1096.0,1439.9 L1099.0,1439.2 L1102.0,1438.3 L1105.0,1437.5 L1108.0,1436.6 L1111.0,1435.7 L1114.0,1434.7 L1117.0,1433.6 L1120.0,1432.6 L1123.0,1431.5 L1126.0,1430.4 L1129.0,1429.2 L1132.0,1427.9 L1135.0,1426.4 L1138.0,1424.8 L1141.0,1422.9 L1144.0,1420.9 L1147.0,1418.8 L1150.0,1416.5 L1153.0,1414.1 L1156.0,1411.5 L1159.0,1408.7 L1162.0,1405.8 L1165.0,1403.0 L1168.0,1400.1 L1171.0,1397.0 L1174.0,1393.6 L1177.0,1389.6 L1180.0,1385.2 L1181.5,1382.8 L1183.0,1380.4 L1184.5,1377.8 L1186.0,1375.1 L1187.5,1372.3 L1189.0,1369.3 L1190.5,1366.2 L1192.0,1363.0 L1193.5,1359.6 L1195.0,1356.1 L1196.5,1352.3 L1198.0,1348.4 L1199.5,1344.2 L1201.0,1339.7 L1202.5,1334.8 L1204.0,1329.4 L1205.5,1323.7 L1207.0,1317.5 L1208.5,1311.0 L1210.0,1304.1 L1211.5,1296.8 L1213.0,1289.1 L1214.5,1281.1 L1216.0,1272.7 L1217.5,1264.0 L1219.0,1255.0 L1220.5,1245.8 L1222.0,1236.6 L1223.5,1227.7 L1225.0,1218.8 L1226.5,1209.6 L1228.0,1199.7 L1229.5,1188.8 L1231.0,1176.4 L1232.5,1162.8 L1234.0,1148.2 L1235.5,1132.5 L1237.0,1115.7 L1238.5,1097.7 L1240.0,1078.5 L1240.5,1071.9 L1241.0,1065.1 L1241.5,1058.1 L1242.0,1051.0 L1242.5,1043.8 L1243.0,1036.4 L1243.5,1028.9 L1244.0,1021.2 L1244.5,1013.4 L1245.0,1005.4 L1245.5,997.2 L1246.0,988.9 L1246.5,980.5 L1247.0,971.9 L1247.5,963.1 L1248.0,954.2 L1248.5,945.1 L1249.0,935.9 L1249.5,926.9 L1250.0,918.0 L1250.5,909.2 L1251.0,900.5 L1251.5,891.7 L1252.0,882.8 L1252.5,873.8 L1253.0,864.6 L1253.5,855.1 L1254.0,845.3 L1254.5,835.2 L1255.0,824.6 L1255.5,813.6 L1256.0,802.0 L1256.5,789.9 L1257.0,777.2 L1257.5,764.3 L1258.0,751.3 L1258.5,738.0 L1259.0,724.6 L1259.5,711.1 L1260.0,697.4 L1260.5,683.7 L1261.0,669.8 L1261.5,655.8 L1262.0,641.7 L1262.5,627.6 L1263.0,613.5 L1263.5,599.3 L1264.0,585.1 L1264.5,571.0 L1265.0,556.9 L1265.5,542.9 L1266.0,529.0 L1266.5,515.3 L1267.0,501.7 L1267.5,488.3 L1268.0,475.1 L1268.5,462.2 L1269.0,449.6 L1269.5,437.4 L1270.0,425.5 L1270.5,414.1 L1271.0,403.0 L1271.5,392.5 L1272.0,382.5 L1272.5,373.0 L1273.0,364.1 L1273.5,355.9 L1274.0,348.3 L1274.5,341.3 L1275.0,335.1 L1275.5,329.6 L1276.0,324.9 L1276.5,320.9 L1277.0,317.7 L1277.5,315.4 L1278.0,313.8 L1278.5,313.1 L1279.0,313.1 L1279.5,314.1 L1280.0,315.8 L1280.5,318.3 L1281.0,321.6 L1281.5,325.8 L1282.0,330.7 L1282.5,336.3 L1283.0,342.7 L1283.5,349.7 L1284.0,357.5 L1284.5,365.9 L1285.0,374.9 L1285.5,384.4 L1286.0,394.6 L1286.5,405.2 L1287.0,416.3 L1287.5,427.9 L1288.0,439.8 L1288.5,452.1 L1289.0,464.8 L1289.5,477.7 L1290.0,490.9 L1290.5,504.4 L1291.0,518.0 L1291.5,531.8 L1292.0,545.7 L1292.5,559.7 L1293.0,573.8 L1293.5,588.0 L1294.0,602.1 L1294.5,616.3 L1295.0,630.4 L1295.5,644.6 L1296.0,658.6 L1296.5,672.6 L1297.0,686.4 L1297.5,700.2 L1298.0,713.8 L1298.5,727.3 L1299.0,740.7 L1299.5,753.9 L1300.0,766.9 L1300.5,779.8 L1301.0,792.4 L1301.5,804.4 L1302.0,815.9 L1302.5,826.8 L1303.0,837.3 L1303.5,847.3 L1304.0,857.0 L1304.5,866.4 L1305.0,875.6 L1305.5,884.6 L1306.0,893.4 L1306.5,902.2 L1307.0,911.0 L1307.5,919.8 L1308.0,928.7 L1308.5,937.8 L1309.0,946.9 L1309.5,956.0 L1310.0,964.9 L1310.5,973.6 L1311.0,982.2 L1311.5,990.6 L1312.0,998.9 L1312.5,1007.0 L1313.0,1015.0 L1313.5,1022.8 L1314.0,1030.4 L1314.5,1037.9 L1315.0,1045.3 L1315.5,1052.5 L1316.0,1059.6 L1316.5,1066.5 L1317.0,1073.3 L1317.5,1079.9 L1318.0,1086.4 L1318.5,1092.8 L1319.0,1099.0 L1319.5,1105.1 L1320.0,1111.1 L1321.5,1128.2 L1323.0,1144.2 L1324.5,1159.1 L1326.0,1172.9 L1327.5,1185.6 L1329.0,1196.5 L1330.5,1206.0 L1332.0,1214.7 L1333.5,1222.9 L1335.0,1231.1 L1336.5,1239.6 L1338.0,1248.2 L1339.5,1256.4 L1341.0,1264.3 L1342.5,1271.8 L1344.0,1279.1 L1345.5,1286.1 L1347.0,1292.9 L1348.5,1299.3 L1350.0,1305.5 L1351.5,1311.4 L1353.0,1317.1 L1354.5,1322.4 L1356.0,1327.6 L1357.5,1332.5 L1359.0,1337.3 L1360.5,1341.9 L1362.0,1346.4 L1363.5,1350.7 L1365.0,1354.9 L1366.5,1358.9 L1368.0,1362.7 L1369.5,1366.4 L1371.0,1370.1 L1372.5,1373.7 L1374.0,1377.2 L1375.5,1380.4 L1377.0,1383.4 L1378.5,1386.2 L1380.0,1388.7 L1381.5,1391.2 L1383.0,1393.5 L1384.5,1395.7 L1386.0,1397.9 L1387.5,1399.9 L1389.0,1401.7 L1390.5,1403.5 L1392.0,1405.2 L1393.5,1406.7 L1395.0,1408.3 L1396.5,1409.7 L1398.0,1411.1 L1399.5,1412.5 L1400.0,1413.0 L1403.0,1415.5 L1406.0,1417.9 L1409.0,1420.1 L1412.0,1422.0 L1415.0,1423.9 L1418.0,1425.6 L1421.0,1427.3 L1424.0,1428.9 L1427.0,1430.4 L1430.0,1431.9 L1433.0,1433.2 L1436.0,1434.5 L1439.0,1435.7 L1442.0,1436.9 L1445.0,1438.1 L1448.0,1439.2 L1451.0,1440.3 L1454.0,1441.4 L1457.0,1442.4 L1460.0,1443.4 L1463.0,1444.4 L1466.0,1445.3 L1469.0,1446.1 L1472.0,1447.0 L1475.0,1447.8 L1478.0,1448.5 L1481.0,1449.2 L1484.0,1450.0 L1487.0,1450.6 L1490.0,1451.3 L1493.0,1452.0 L1496.0,1452.6 L1499.0,1453.2 L1502.0,1453.8 L1505.0,1454.4 L1508.0,1454.9 L1511.0,1455.3 L1514.0,1455.8 L1517.0,1456.2 L1520.0,1456.6 L1523.0,1456.9 L1526.0,1457.3 L1529.0,1457.7 L1532.0,1458.0 L1535.0,1458.3 L1538.0,1458.7 L1541.0,1459.0 L1544.0,1459.3 L1547.0,1459.6 L1550.0,1459.8 L1553.0,1460.1 L1556.0,1460.4 L1559.0,1460.6 L1562.0,1460.9 L1565.0,1461.1 L1568.0,1461.3 L1571.0,1461.5 L1574.0,1461.7 L1577.0,1461.9 L1580.0,1462.1 L1583.0,1462.2 L1586.0,1462.4 L1589.0,1462.5 L1592.0,1462.7 L1595.0,1462.8 L1598.0,1463.0 L1601.0,1463.1 L1604.0,1463.2 L1607.0,1463.4 L1610.0,1463.5 L1613.0,1463.7 L1616.0,1463.8 L1619.0,1463.9 L1622.0,1464.0 L1625.0,1464.1 L1628.0,1464.2 L1631.0,1464.3 L1634.0,1464.4 L1637.0,1464.5 L1640.0,1464.6 L1643.0,1464.7 L1646.0,1464.7 L1649.0,1464.8 L1652.0,1464.9 L1655.0,1465.0 L1658.0,1465.0 L1661.0,1465.1 L1664.0,1465.2 L1667.0,1465.2 L1670.0,1465.3 L1673.0,1465.4 L1676.0,1465.4 L1679.0,1465.5 L1682.0,1465.5 L1685.0,1465.6 L1688.0,1465.6 L1691.0,1465.7 L1694.0,1465.7 L1697.0,1465.8 L1700.0,1465.8 L1703.0,1465.9 L1706.0,1465.9 L1709.0,1466.0 L1712.0,1466.0 L1715.0,1466.1 L1718.0,1466.1 L1721.0,1466.2 L1724.0,1466.2 L1727.0,1466.2 L1730.0,1466.3 L1733.0,1466.3 L1736.0,1466.4 L1739.0,1466.4 L1742.0,1466.4 L1745.0,1466.5 L1748.0,1466.5 L1751.0,1466.5 L1754.0,1466.6 L1757.0,1466.6 L1760.0,1466.6 L1763.0,1466.7 L1766.0,1466.7 L1769.0,1466.7 L1772.0,1466.8 L1775.0,1466.8 L1778.0,1466.8 L1781.0,1466.9 L1784.0,1466.9 L1787.0,1466.9 L1790.0,1467.0 L1793.0,1467.0 L1796.0,1467.0 L1799.0,1467.0 L1802.0,1467.1 L1805.0,1467.1 L1808.0,1467.1 L1811.0,1467.1 L1814.0,1467.2 L1817.0,1467.2 L1820.0,1467.2 L1823.0,1467.2 L1826.0,1467.3 L1829.0,1467.3 L1832.0,1467.3 L1835.0,1467.3 L1838.0,1467.4 L1841.0,1467.4 L1844.0,1467.4 L1847.0,1467.4 L1850.0,1467.4 L1853.0,1467.5 L1856.0,1467.5 L1859.0,1467.5 L1862.0,1467.5 L1865.0,1467.5 L1868.0,1467.6 L1871.0,1467.6 L1874.0,1467.6 L1877.0,1467.6 L1880.0,1467.6 L1883.0,1467.6 L1886.0,1467.7 L1889.0,1467.7 L1892.0,1467.7 L1895.0,1467.7 L1898.0,1467.7 L1901.0,1467.7 L1904.0,1467.8 L1907.0,1467.8 L1910.0,1467.8 L1913.0,1467.8 L1916.0,1467.8 L1919.0,1467.8 L1922.0,1467.9 L1925.0,1467.9 L1928.0,1467.9 L1931.0,1467.9 L1934.0,1467.9 L1937.0,1467.9 L1940.0,1467.9 L1943.0,1467.9 L1946.0,1468.0 L1949.0,1468.0 L1952.0,1468.0 L1955.0,1468.0 L1958.0,1468.0 L1961.0,1468.0 L1964.0,1468.0 L1967.0,1468.0 L1970.0,1468.1 L1973.0,1468.1 L1976.0,1468.1 L1979.0,1468.1 L1982.0,1468.1 L1985.0,1468.1 L1988.0,1468.1 L1991.0,1468.1 L1994.0,1468.1 L1997.0,1468.2 L2000.0,1468.2 L2003.0,1468.2 L2006.0,1468.2 L2009.0,1468.2 L2012.0,1468.2 L2015.0,1468.2 L2018.0,1468.2 L2021.0,1468.2 L2024.0,1468.3 L2027.0,1468.3 L2030.0,1468.3 L2033.0,1468.3 L2036.0,1468.3 L2039.0,1468.3 L2042.0,1468.3 L2045.0,1468.3 L2048.0,1468.3 L2051.0,1468.3 L2054.0,1468.3 L2057.0,1468.3 L2060.0,1468.4 L2063.0,1468.4 L2066.0,1468.4 L2069.0,1468.4 L2072.0,1468.4 L2075.0,1468.4 L2078.0,1468.4 L2081.0,1468.4 L2084.0,1468.4 L2087.0,1468.4 L2090.0,1468.4 L2093.0,1468.4 L2096.0,1468.4 L2099.0,1468.5 L2102.0,1468.5 L2105.0,1468.5 L2108.0,1468.5 L2111.0,1468.5 L2114.0,1468.5 L2117.0,1468.5 L2120.0,1468.5 L2123.0,1468.5 L2126.0,1468.5 L2129.0,1468.5 L2132.0,1468.5 L2135.0,1468.5 L2138.0,1468.5 L2141.0,1468.6 L2144.0,1468.6 L2147.0,1468.6 L2150.0,1468.6 L2153.0,1468.6 L2156.0,1468.6 L2159.0,1468.6 L2162.0,1468.6 L2165.0,1468.6 L2168.0,1468.6 L2171.0,1468.6 L2174.0,1468.6 L2177.0,1468.6 L2180.0,1468.6 L2183.0,1468.6 L2186.0,1468.6 L2189.0,1468.6 L2192.0,1468.6 L2195.0,1468.7 L2198.0,1468.7 L2201.0,1468.7 L2204.0,1468.7 L2207.0,1468.7 L2210.0,1468.7 L2213.0,1468.7 L2216.0,1468.7 L2219.0,1468.7 L2222.0,1468.7 L2225.0,1468.7 L2228.0,1468.7 L2231.0,1468.7 L2234.0,1468.7 L2237.0,1468.7 L2240.0,1468.7 L2243.0,1468.7 L2246.0,1468.7 L2249.0,1468.7 L2252.0,1468.7 L2255.0,1468.7 L2258.0,1468.8 L2261.0,1468.8 L2264.0,1468.8 L2267.0,1468.8 L2270.0,1468.8 L2273.0,1468.8 L2273.7,1468.8"/>
<path id="bkg" stroke="#7cfbf5" d="M226.0,1457.6 L229.0,1457.3 L232.0,1457.1 L235.0,1456.8 L238.0,1456.5 L241.0,1456.3 L244.0,1456.0 L247.0,1455.8 L250.0,1455.5 L253.0,1455.3 L256.0,1455.0 L259.0,1454.8 L262.0,1454.5 L265.0,1454.3 L268.0,1454.0 L271.0,1453.8 L274.0,1453.5 L277.0,1453.3 L280.0,1453.1 L283.0,1452.8 L286.0,1452.6 L289.0,1452.3 L292.0,1452.1 L295.0,1451.9 L298.0,1451.7 L301.0,1451.4 L304.0,1451.2 L307.0,1451.0 L310.0,1450.7 L313.0,1450.5 L316.0,1450.3 L319.0,1450.1 L322.0,1449.8 L325.0,1449.6 L328.0,1449.4 L331.0,1449.2 L334.0,1449.0 L337.0,1448.7 L340.0,1448.5 L343.0,1448.3 L346.0,1448.1 L349.0,1447.9 L352.0,1447.7 L355.0,1447.5 L358.0,1447.3 L361.0,1447.0 L364.0,1446.8 L367.0,1446.6 L370.0,1446.4 L373.0,1446.2 L376.0,1446.0 L379.0,1445.8 L382.0,1445.6 L385.0,1445.4 L388.0,1445.2 L391.0,1445.1 L394.0,1444.9 L397.0,1444.7 L400.0,1444.5 L403.0,1444.3 L406.0,1444.1 L409.0,1444.0 L412.0,1443.8 L415.0,1443.6 L418.0,1443.4 L421.0,1443.2 L424.0,1443.1 L427.0,1442.9 L430.0,1442.7 L433.0,1442.5 L436.0,1442.4 L439.0,1442.2 L442.0,1442.0 L445.0,1441.9 L448.0,1441.7 L451.0,1441.5 L454.0,1441.4 L457.0,1441.2 L460.0,1441.0 L463.0,1440.9 L466.0,1440.7 L469.0,1440.5 L472.0,1440.4 L475.0,1440.2 L478.0,1440.1 L481.0,1439.9 L484.0,1439.7 L487.0,1439.6 L490.0,1439.4 L493.0,1439.3 L496.0,1439.1 L499.0,1439.0 L502.0,1438.8 L505.0,1438.7 L508.0,1438.5 L511.0,1438.4 L514.0,1438.2 L517.0,1438.1 L520.0,1437.9 L523.0,1437.8 L526.0,1437.6 L529.0,1437.5 L532.0,1437.3 L535.0,1437.2 L538.0,1437.1 L541.0,1436.9 L544.0,1436.8 L547.0,1436.6 L550.0,1436.5 L553.0,1436.4 L556.0,1436.2 L559.0,1436.1 L562.0,1435.9 L565.0,1435.8 L568.0,1435.7 L571.0,1435.5 L574.0,1435.4 L577.0,1435.3 L580.0,1435.1 L583.0,1435.0 L586.0,1434.8 L589.0,1434.7 L592.0,1434.6 L595.0,1434.4 L598.0,1434.3 L601.0,1434.2 L604.0,1434.0 L607.0,1433.9 L610.0,1433.8 L613.0,1433.6 L616.0,1433.5 L619.0,1433.4 L622.0,1433.2 L625.0,1433.1 L628.0,1433.0 L631.0,1432.9 L634.0,1432.7 L637.0,1432.6 L640.0,1432.5 L643.0,1432.4 L646.0,1432.2 L649.0,1432.1 L652.0,1432.0 L655.0,1431.9 L658.0,1431.8 L661.0,1431.6 L664.0,1431.5 L667.0,1431.4 L670.0,1431.3 L673.0,1431.2 L676.0,1431.1 L679.0,1431.0 L682.0,1430.9 L685.0,1430.8 L688.0,1430.7 L691.0,1430.6 L694.0,1430.5 L697.0,1430.4 L700.0,1430.3 L703.0,1430.2 L706.0,1430.1 L709.0,1430.0 L712.0,1429.9 L715.0,1429.9 L718.0,1429.8 L721.0,1429.7 L724.0,1429.6 L727.0,1429.5 L730.0,1429.5 L733.0,1429.4 L736.0,1429.3 L739.0,1429.2 L742.0,1429.1 L745.0,1429.1 L748.0,1429.0 L751.0,1428.9 L754.0,1428.8 L757.0,1428.8 L760.0,1428.7 L763.0,1428.6 L766.0,1428.6 L769.0,1428.5 L772.0,1428.4 L775.0,1428.4 L778.0,1428.3 L781.0,1428.2 L784.0,1428.2 L787.0,1428.1 L790.0,1428.0 L793.0,1428.0 L796.0,1427.9 L799.0,1427.8 L802.0,1427.8 L805.0,1427.7 L808.0,1427.6 L811.0,1427.6 L814.0,1427.5 L817.0,1427.5 L820.0,1427.4 L823.0,1427.4 L826.0,1427.3 L829.0,1427.2 L832.0,1427.2 L835.0,1427.1 L838.0,1427.1 L841.0,1427.0 L844.0,1426.9 L847.0,1426.9 L850.0,1426.8 L853.0,1426.8 L856.0,1426.7 L859.0,1426.7 L862.0,1426.6 L865.0,1426.6 L868.0,1426.5 L871.0,1426.5 L874.0,1426.4 L877.0,1426.4 L880.0,1426.3 L883.0,1426.2 L886.0,1426.2 L889.0,1426.1 L892.0,1426.1 L895.0,1426.0 L898.0,1426.0 L901.0,1425.9 L904.0,1425.9 L907.0,1425.9 L910.0,1425.8 L913.0,1425.8 L916.0,1425.7 L919.0,1425.7 L922.0,1425.6 L925.0,1425.6 L928.0,1425.5 L931.0,1425.5 L934.0,1425.5 L937.0,1425.4 L940.0,1425.4 L943.0,1425.3 L946.0,1425.3 L949.0,1425.2 L952.0,1425.2 L955.0,1425.2 L958.0,1425.1 L961.0,1425.1 L964.0,1425.0 L967.0,1425.0 L970.0,1424.9 L973.0,1424.9 L976.0,1424.9 L979.0,1424.8 L982.0,1424.8 L985.0,1424.7 L988.0,1424.7 L991.0,1424.6 L994.0,1424.6 L997.0,1424.5 L1000.0,1424.5 L1003.0,1424.5 L1006.0,1424.4 L1009.0,1424.4 L1012.0,1424.3 L1015.0,1424.3 L1018.0,1424.2 L1021.0,1424.2 L1024.0,1424.1 L1027.0,1424.1 L1030.0,1424.0 L1033.0,1424.0 L1036.0,1423.9 L1039.0,1423.9 L1042.0,1423.8 L1045.0,1423.8 L1048.0,1423.8 L1051.0,1423.7 L1054.0,1423.7 L1057.0,1423.6 L1060.0,1423.6 L1063.0,1423.5 L1066.0,1423.5 L1069.0,1423.4 L1072.0,1423.4 L1075.0,1423.3 L1078.0,1423.3 L1081.0,1423.2 L1084.0,1423.2 L1087.0,1423.1 L1090.0,1423.1 L1093.0,1423.0 L1096.0,1423.0 L1099.0,1422.9 L1102.0,1422.9 L1105.0,1422.9 L1108.0,1422.8 L1111.0,1422.8 L1114.0,1422.7 L1117.0,1422.7 L1120.0,1422.6 L1123.0,1422.6 L1126.0,1422.5 L1129.0,1422.5 L1132.0,1422.4 L1135.0,1422.4 L1138.0,1422.3 L1141.0,1422.3 L1144.0,1422.2 L1147.0,1422.2 L1150.0,1422.2 L1153.0,1422.1 L1156.0,1422.1 L1159.0,1422.0 L1162.0,1422.0 L1165.0,1421.9 L1168.0,1421.9 L1171.0,1421.8 L1174.0,1421.8 L1177.0,1421.7 L1180.0,1421.7 L1181.5,1421.7 L1183.0,1421.6 L1184.5,1421.6 L1186.0,1421.6 L1187.5,1421.6 L1189.0,1421.6 L1190.5,1421.5 L1192.0,1421.5 L1193.5,1421.5 L1195.0,1421.5 L1196.5,1421.5 L1198.0,1421.4 L1199.5,1421.4 L1201.0,1421.4 L1202.5,1421.4 L1204.0,1421.3 L1205.5,1421.3 L1207.0,1421.3 L1208.5,1421.3 L1210.0,1421.3 L1211.5,1421.2 L1213.0,1421.2 L1214.5,1421.2 L1216.0,1421.2 L1217.5,1421.1 L1219.0,1421.1 L1220.5,1421.1 L1222.0,1421.1 L1223.5,1421.1 L1225.0,1421.0 L1226.5,1421.0 L1228.0,1421.0 L1229.5,1421.0 L1231.0,1420.9 L1232.5,1420.9 L1234.0,1420.9 L1235.5,1420.9 L1237.0,1420.8 L1238.5,1420.8 L1240.0,1420.8 L1240.5,1420.8 L1241.0,1420.8 L1241.5,1420.8 L1242.0,1420.8 L1242.5,1420.8 L1243.0,1420.8 L1243.5,1420.7 L1244.0,1420.7 L1244.5,1420.7 L1245.0,1420.7 L1245.5,1420.7 L1246.0,1420.7 L1246.5,1420.7 L1247.0,1420.7 L1247.5,1420.7 L1248.0,1420.7 L1248.5,1420.7 L1249.0,1420.7 L1249.5,1420.6 L1250.0,1420.6 L1250.5,1420.6 L1251.0,1420.6 L1251.5,1420.6 L1252.0,1420.6 L1252.5,1420.6 L1253.0,1420.6 L1253.5,1420.6 L1254.0,1420.6 L1254.5,1420.6 L1255.0,1420.6 L1255.5,1420.6 L1256.0,1420.5 L1256.5,1420.5 L1257.0,1420.5 L1257.5,1420.5 L1258.0,1420.5 L1258.5,1420.5 L1259.0,1420.5 L1259.5,1420.5 L1260.0,1420.5 L1260.5,1420.5 L1261.0,1420.5 L1261.5,1420.5 L1262.0,1420.5 L1262.5,1420.4 L1263.0,1420.4 L1263.5,1420.4 L1264.0,1420.4 L1264.5,1420.4 L1265.0,1420.4 L1265.5,1420.4 L1266.0,1420.4 L1266.5,1420.4 L1267.0,1420.4 L1267.5,1420.4 L1268.0,1420.4 L1268.5,1420.4 L1269.0,1420.3 L1269.5,1420.3 L1270.0,1420.3 L1270.5,1420.3 L1271.0,1420.3 L1271.5,1420.3 L1272.0,1420.3 L1272.5,1420.3 L1273.0,1420.3 L1273.5,1420.3 L1274.0,1420.3 L1274.5,1420.3 L1275.0,1420.3 L1275.5,1420.2 L1276.0,1420.2 L1276.5,1420.2 L1277.0,1420.2 L1277.5,1420.2 L1278.0,1420.2 L1278.5,1420.2 L1279.0,1420.2 L1279.5,1420.2 L1280.0,1420.2 L1280.5,1420.2 L1281.0,1420.2 L1281.5,1420.1 L1282.0,1420.1 L1282.5,1420.1 L1283.0,1420.1 L1283.5,1420.1 L1284.0,1420.1 L1284.5,1420.1 L1285.0,1420.1 L1285.5,1420.1 L1286.0,1420.1 L1286.5,1420.1 L1287.0,1420.1 L1287.5,1420.1 L1288.0,1420.0 L1288.5,1420.0 L1289.0,1420.0 L1289.5,1420.0 L1290.0,1420.0 L1290.5,1420.0 L1291.0,1420.0 L1291.5,1420.0 L1292.0,1420.0 L1292.5,1420.0 L1293.0,1420.0 L1293.5,1420.0 L1294.0,1420.0 L1294.5,1419.9 L1295.0,1419.9 L1295.5,1419.9 L1296.0,1419.9 L1296.5,1419.9 L1297.0,1419.9 L1297.5,1419.9 L1298.0,1419.9 L1298.5,1419.9 L1299.0,1419.9 L1299.5,1419.9 L1300.0,1419.9 L1300.5,1419.9 L1301.0,1419.8 L1301.5,1419.8 L1302.0,1419.8 L1302.5,1419.8 L1303.0,1419.8 L1303.5,1419.8 L1304.0,1419.8 L1304.5,1419.8 L1305.0,1419.8 L1305.5,1419.8 L1306.0,1419.8 L1306.5,1419.8 L1307.0,1419.8 L1307.5,1419.7 L1308.0,1419.7 L1308.5,1419.7 L1309.0,1419.7 L1309.5,1419.7 L1310.0,1419.7 L1310.5,1419.7 L1311.0,1419.7 L1311.5,1419.7 L1312.0,1419.7 L1312.5,1419.7 L1313.0,1419.7 L1313.5,1419.7 L1314.0,1419.6 L1314.5,1419.6 L1315.0,1419.6 L1315.5,1419.6 L1316.0,1419.6 L1316.5,1419.6 L1317.0,1419.6 L1317.5,1419.6 L1318.0,1419.6 L1318.5,1419.6 L1319.0,1419.6 L1319.5,1419.6 L1320.0,1419.6 L1321.5,1419.5 L1323.0,1419.5 L1324.5,1419.5 L1326.0,1419.5 L1327.5,1419.4 L1329.0,1419.4 L1330.5,1419.4 L1332.0,1419.4 L1333.5,1419.4 L1335.0,1419.3 L1336.5,1419.3 L1338.0,1419.3 L1339.5,1419.3 L1341.0,1419.2 L1342.5,1419.2 L1344.0,1419.2 L1345.5,1419.2 L1347.0,1419.2 L1348.5,1419.1 L1350.0,1419.1 L1351.5,1419.1 L1353.0,1419.1 L1354.5,1419.1 L1356.0,1419.0 L1357.5,1419.0 L1359.0,1419.0 L1360.5,1419.0 L1362.0,1419.0 L1363.5,1418.9 L1365.0,1418.9 L1366.5,1418.9 L1368.0,1418.9 L1369.5,1418.9 L1371.0,1418.8 L1372.5,1418.8 L1374.0,1418.8 L1375.5,1418.8 L1377.0,1418.8 L1378.5,1418.7 L1380.0,1418.7 L1381.5,1418.7 L1383.0,1418.7 L1384.5,1418.7 L1386.0,1418.6 L1387.5,1418.6 L1389.0,1418.6 L1390.5,1418.6 L1392.0,1418.6 L1393.5,1418.6 L1395.0,1418.5 L1396.5,1418.5 L1398.0,1418.5 L1399.5,1418.5 L1400.0,1418.5 L1403.0,1418.4 L1406.0,1418.4 L1409.0,1418.4 L1412.0,1418.3 L1415.0,1418.3 L1418.0,1418.3 L1421.0,1418.3 L1424.0,1418.2 L1427.0,1418.2 L1430.0,1418.2 L1433.0,1418.1 L1436.0,1418.1 L1439.0,1418.1 L1442.0,1418.1 L1445.0,1418.0 L1448.0,1418.0 L1451.0,1418.0 L1454.0,1418.0 L1457.0,1417.9 L1460.0,1417.9 L1463.0,1417.9 L1466.0,1417.9 L1469.0,1417.9 L1472.0,1417.8 L1475.0,1417.8 L1478.0,1417.8 L1481.0,1417.8 L1484.0,1417.8 L1487.0,1417.7 L1490.0,1417.7 L1493.0,1417.7 L1496.0,1417.7 L1499.0,1417.7 L1502.0,1417.7 L1505.0,1417.6 L1508.0,1417.6 L1511.0,1417.6 L1514.0,1417.6 L1517.0,1417.6 L1520.0,1417.6 L1523.0,1417.5 L1526.0,1417.5 L1529.0,1417.5 L1532.0,1417.5 L1535.0,1417.5 L1538.0,1417.5 L1541.0,1417.4 L1544.0,1417.4 L1547.0,1417.4 L1550.0,1417.4 L1553.0,1417.4 L1556.0,1417.4 L1559.0,1417.4 L1562.0,1417.3 L1565.0,1417.3 L1568.0,1417.3 L1571.0,1417.3 L1574.0,1417.3 L1577.0,1417.3 L1580.0,1417.3 L1583.0,1417.3 L1586.0,1417.2 L1589.0,1417.2 L1592.0,1417.2 L1595.0,1417.2 L1598.0,1417.2 L1601.0,1417.2 L1604.0,1417.2 L1607.0,1417.1 L1610.0,1417.1 L1613.0,1417.1 L1616.0,1417.1 L1619.0,1417.1 L1622.0,1417.1 L1625.0,1417.1 L1628.0,1417.1 L1631.0,1417.0 L1634.0,1417.0 L1637.0,1417.0 L1640.0,1417.0 L1643.0,1417.0 L1646.0,1417.0 L1649.0,1417.0 L1652.0,1416.9 L1655.0,1416.9 L1658.0,1416.9 L1661.0,1416.9 L1664.0,1416.9 L1667.0,1416.9 L1670.0,1416.9 L1673.0,1416.8 L1676.0,1416.8 L1679.0,1416.8 L1682.0,1416.8 L1685.0,1416.8 L1688.0,1416.8 L1691.0,1416.7 L1694.0,1416.7 L1697.0,1416.7 L1700.0,1416.7 L1703.0,1416.7 L1706.0,1416.7 L1709.0,1416.6 L1712.0,1416.6 L1715.0,1416.6 L1718.0,1416.6 L1721.0,1416.6 L1724.0,1416.6 L1727.0,1416.5 L1730.0,1416.5 L1733.0,1416.5 L1736.0,1416.5 L1739.0,1416.5 L1742.0,1416.5 L1745.0,1416.4 L1748.0,1416.4 L1751.0,1416.4 L1754.0,1416.4 L1757.0,1416.4 L1760.0,1416.4 L1763.0,1416.3 L1766.0,1416.3 L1769.0,1416.3 L1772.0,1416.3 L1775.0,1416.3 L1778.0,1416.3 L1781.0,1416.2 L1784.0,1416.2 L1787.0,1416.2 L1790.0,1416.2 L1793.0,1416.2 L1796.0,1416.2 L1799.0,1416.1 L1802.0,1416.1 L1805.0,1416.1 L1808.0,1416.1 L1811.0,1416.1 L1814.0,1416.1 L1817.0,1416.0 L1820.0,1416.0 L1823.0,1416.0 L1826.0,1416.0 L1829.0,1416.0 L1832.0,1416.0 L1835.0,1415.9 L1838.0,1415.9 L1841.0,1415.9 L1844.0,1415.9 L1847.0,1415.9 L1850.0,1415.8 L1853.0,1415.8 L1856.0,1415.8 L1859.0,1415.8 L1862.0,1415.8 L1865.0,1415.8 L1868.0,1415.7 L1871.0,1415.7 L1874.0,1415.7 L1877.0,1415.7 L1880.0,1415.7 L1883.0,1415.7 L1886.0,1415.6 L1889.0,1415.6 L1892.0,1415.6 L1895.0,1415.6 L1898.0,1415.6 L1901.0,1415.5 L1904.0,1415.5 L1907.0,1415.5 L1910.0,1415.5 L1913.0,1415.5 L1916.0,1415.5 L1919.0,1415.4 L1922.0,1415.4 L1925.0,1415.4 L1928.0,1415.4 L1931.0,1415.4 L1934.0,1415.4 L1937.0,1415.3 L1940.0,1415.3 L1943.0,1415.3 L1946.0,1415.3 L1949.0,1415.3 L1952.0,1415.2 L1955.0,1415.2 L1958.0,1415.2 L1961.0,1415.2 L1964.0,1415.2 L1967.0,1415.2 L1970.0,1415.1 L1973.0,1415.1 L1976.0,1415.1 L1979.0,1415.1 L1982.0,1415.1 L1985.0,1415.0 L1988.0,1415.0 L1991.0,1415.0 L1994.0,1415.0 L1997.0,1415.0 L2000.0,1415.0 L2003.0,1414.9 L2006.0,1414.9 L2009.0,1414.9 L2012.0,1414.9 L2015.0,1414.9 L2018.0,1414.8 L2021.0,1414.8 L2024.0,1414.8 L2027.0,1414.8 L2030.0,1414.8 L2033.0,1414.8 L2036.0,1414.7 L2039.0,1414.7 L2042.0,1414.7 L2045.0,1414.7 L2048.0,1414.7 L2051.0,1414.6 L2054.0,1414.6 L2057.0,1414.6 L2060.0,1414.6 L2063.0,1414.6 L2066.0,1414.5 L2069.0,1414.5 L2072.0,1414.5 L2075.0,1414.5 L2078.0,1414.5 L2081.0,1414.5 L2084.0,1414.4 L2087.0,1414.4 L2090.0,1414.4 L2093.0,1414.4 L2096.0,1414.4 L2099.0,1414.3 L2102.0,1414.3 L2105.0,1414.3 L2108.0,1414.3 L2111.0,1414.3 L2114.0,1414.2 L2117.0,1414.2 L2120.0,1414.2 L2123.0,1414.2 L2126.0,1414.2 L2129.0,1414.1 L2132.0,1414.1 L2135.0,1414.1 L2138.0,1414.1 L2141.0,1414.1 L2144.0,1414.1 L2147.0,1414.0 L2150.0,1414.0 L2153.0,1414.0 L2156.0,1414.0 L2159.0,1414.0 L2162.0,1413.9 L2165.0,1413.9 L2168.0,1413.9 L2171.0,1413.9 L2174.0,1413.9 L2177.0,1413.8 L2180.0,1413.8 L2183.0,1413.8 L2186.0,1413.8 L2189.0,1413.8 L2192.0,1413.7 L2195.0,1413.7 L2198.0,1413.7 L2201.0,1413.7 L2204.0,1413.7 L2207.0,1413.6 L2210.0,1413.6 L2213.0,1413.6 L2216.0,1413.6 L2219.0,1413.6 L2222.0,1413.5 L2225.0,1413.5 L2228.0,1413.5 L2231.0,1413.5 L2234.0,1413.5 L2237.0,1413.4 L2240.0,1413.4 L2243.0,1413.4 L2246.0,1413.4 L2249.0,1413.4 L2252.0,1413.3 L2255.0,1413.3 L2258.0,1413.3 L2261.0,1413.3 L2264.0,1413.3 L2267.0,1413.2 L2270.0,1413.2 L2273.0,1413.2 L2273.7,1413.2"/>
</g>
<!-- legend -->
<g stroke-width="9.6" stroke-linecap="round">
<line x1="313.8" y1="281.9" x2="488.2" y2="281.9" stroke="#000"/>
<line x1="313.8" y1="378.5" x2="488.2" y2="378.5" stroke="#ff0000"/>
<line x1="313.8" y1="475.4" x2="488.2" y2="475.4" stroke="#00ff00"/>
<line x1="313.8" y1="571.9" x2="488.2" y2="571.9" stroke="#0000ff"/>
<line x1="313.8" y1="668.9" x2="488.2" y2="668.9" stroke="#7cfbf5"/>
</g>
<g id="legend-text" stroke="#000" stroke-width="1.1">
<text id="l0" x="509.29" y="307.9" font-size="81.5" font-weight="normal" textLength="342.55" lengthAdjust="spacingAndGlyphs">Raw Data</text>
<text id="l1" x="509.24" y="403.8" font-size="81.5" font-weight="normal" textLength="384.80" lengthAdjust="spacingAndGlyphs">Fitting Line</text>
<text id="l2" x="509.31" y="500.2" font-size="81.5" font-weight="normal" textLength="249.59" lengthAdjust="spacingAndGlyphs">D peak</text>
<text id="l3" x="509.57" y="596.9" font-size="81.5" font-weight="normal" textLength="252.03" lengthAdjust="spacingAndGlyphs">G peak</text>
<text id="l4" x="509.40" y="694.2" font-size="81.5" font-weight="normal" textLength="419.24" lengthAdjust="spacingAndGlyphs">Background</text>
</g>
<!-- tick labels -->
<g id="tick-labels">
<text id="t500" x="444.45" y="1685.3" font-size="81.5" font-weight="bold" textLength="129.39" lengthAdjust="spacingAndGlyphs">500</text>
<text id="t1000" x="774.05" y="1685.3" font-size="81.5" font-weight="bold" textLength="174.94" lengthAdjust="spacingAndGlyphs">1000</text>
<text id="t1500" x="1127.21" y="1685.3" font-size="81.5" font-weight="bold" textLength="174.73" lengthAdjust="spacingAndGlyphs">1500</text>
<text id="t2000" x="1478.60" y="1685.3" font-size="81.5" font-weight="bold" textLength="176.32" lengthAdjust="spacingAndGlyphs">2000</text>
<text id="t2500" x="1833.58" y="1685.3" font-size="81.5" font-weight="bold" textLength="174.21" lengthAdjust="spacingAndGlyphs">2500</text>
<text id="t3000" x="2186.80" y="1685.3" font-size="81.5" font-weight="bold" textLength="173.61" lengthAdjust="spacingAndGlyphs">3000</text>
</g>
<!-- axis titles -->
<text id="x-title" stroke="#000" stroke-width="0.5"><tspan x="903.39" y="1800.6" font-size="79" font-weight="bold" textLength="622.28" lengthAdjust="spacingAndGlyphs">Raman Shift (cm</tspan><tspan x="1526.06" y="1762.7" font-size="49" font-weight="normal" textLength="37.34" lengthAdjust="spacingAndGlyphs">-1</tspan><tspan x="1571.19" y="1800.6" font-size="79" font-weight="bold" textLength="22.35" lengthAdjust="spacingAndGlyphs">)</tspan></text>
<text id="yt" transform="translate(125,1158.21) rotate(-90)" font-size="97" font-weight="bold" textLength="631.82" lengthAdjust="spacingAndGlyphs">Intensity (a.u.)</text>
</svg>
</body>
</html>
